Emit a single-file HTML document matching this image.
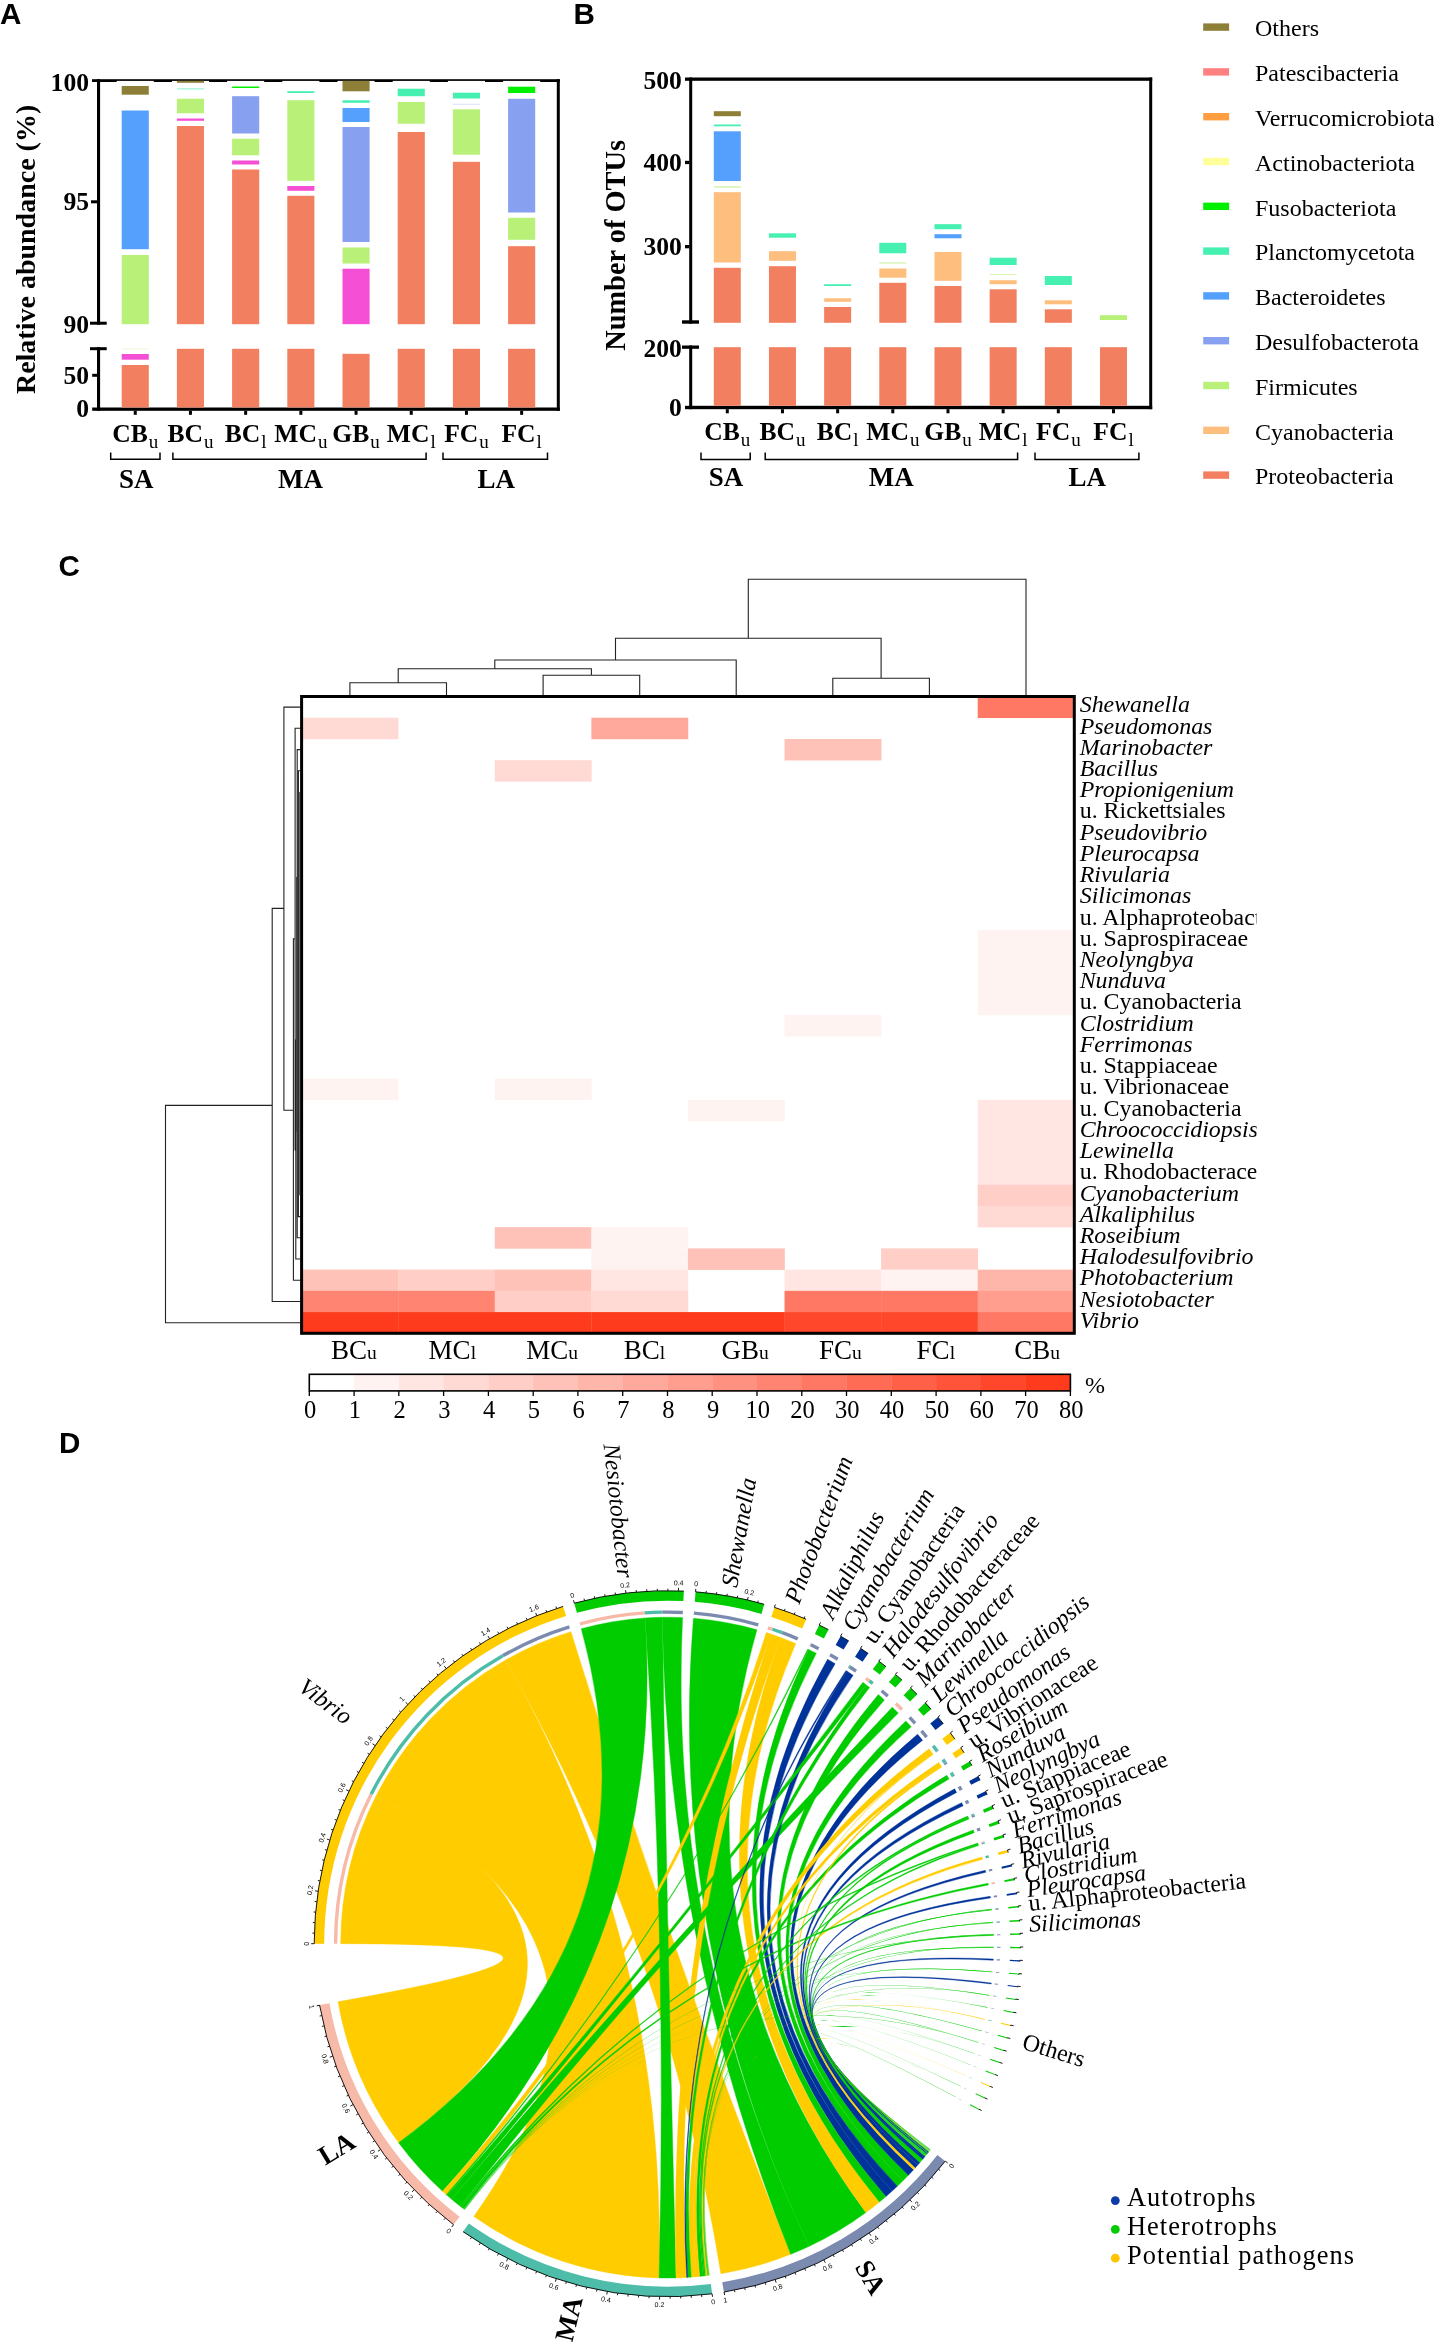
<!DOCTYPE html>
<html><head><meta charset="utf-8"><title>Figure</title>
<style>
html,body{margin:0;padding:0;background:#fff;}
body{width:1434px;height:2342px;overflow:hidden;font-family:"Liberation Serif",serif;}
svg{display:block;will-change:transform;}
text{fill:#000;}
</style></head><body>
<svg width="1434" height="2342" viewBox="0 0 1434 2342">
<text x="0.00" y="24.30" font-family="Liberation Sans" font-size="29.6" font-weight="bold" font-style="normal" text-anchor="start" >A</text>
<text x="573.60" y="24.00" font-family="Liberation Sans" font-size="29.6" font-weight="bold" font-style="normal" text-anchor="start" >B</text>
<text x="58.60" y="575.70" font-family="Liberation Sans" font-size="29.6" font-weight="bold" font-style="normal" text-anchor="start" >C</text>
<text x="59.00" y="1453.20" font-family="Liberation Sans" font-size="29.6" font-weight="bold" font-style="normal" text-anchor="start" >D</text>
<rect x="92.00" y="79.20" width="467.80" height="2.80" fill="#000"/>
<rect x="97.00" y="79.20" width="3.10" height="245.50" fill="#000"/>
<rect x="97.00" y="347.20" width="3.10" height="63.60" fill="#000"/>
<rect x="556.80" y="79.20" width="3.00" height="331.60" fill="#000"/>
<rect x="92.20" y="407.50" width="467.60" height="3.30" fill="#000"/>
<rect x="91.00" y="200.30" width="6.50" height="3.00" fill="#000"/>
<rect x="90.00" y="321.70" width="16.70" height="3.00" fill="#000"/>
<rect x="90.00" y="347.20" width="16.70" height="3.00" fill="#000"/>
<rect x="92.20" y="373.80" width="5.50" height="3.00" fill="#000"/>
<rect x="116.70" y="80.90" width="37.10" height="1.40" fill="#fff"/>
<rect x="171.90" y="80.90" width="37.10" height="1.40" fill="#fff"/>
<rect x="227.10" y="80.90" width="37.10" height="1.40" fill="#fff"/>
<rect x="282.30" y="80.90" width="37.10" height="1.40" fill="#fff"/>
<rect x="337.50" y="80.90" width="37.10" height="1.40" fill="#fff"/>
<rect x="392.70" y="80.90" width="37.10" height="1.40" fill="#fff"/>
<rect x="447.90" y="80.90" width="37.10" height="1.40" fill="#fff"/>
<rect x="503.10" y="80.90" width="37.10" height="1.40" fill="#fff"/>
<rect x="121.70" y="86.00" width="27.10" height="8.70" fill="#8E7F38"/>
<rect x="121.70" y="110.50" width="27.10" height="138.70" fill="#55A0FC"/>
<rect x="121.70" y="255.00" width="27.10" height="69.20" fill="#B9F077"/>
<rect x="121.70" y="348.30" width="27.10" height="1.20" fill="#F0FAE0"/>
<rect x="121.70" y="354.00" width="27.10" height="5.70" fill="#F550D5"/>
<rect x="121.70" y="365.00" width="27.10" height="42.50" fill="#F27F5F"/>
<rect x="133.75" y="410.80" width="3.00" height="4.00" fill="#000"/>
<text x="135.25" y="441.70" font-family="Liberation Serif" text-anchor="middle" font-size="25.6" font-weight="bold">CB<tspan font-size="19" font-weight="normal" dy="5.8" dx="1">u</tspan></text>
<rect x="176.90" y="80.80" width="27.10" height="2.00" fill="#8E7F38"/>
<rect x="176.90" y="88.00" width="27.10" height="1.70" fill="#B8F8E2"/>
<rect x="176.90" y="98.70" width="27.10" height="14.60" fill="#B9F077"/>
<rect x="176.90" y="118.50" width="27.10" height="2.30" fill="#F550D5"/>
<rect x="176.90" y="126.00" width="27.10" height="198.20" fill="#F27F5F"/>
<rect x="176.90" y="348.80" width="27.10" height="58.70" fill="#F27F5F"/>
<rect x="188.95" y="410.80" width="3.00" height="4.00" fill="#000"/>
<text x="190.45" y="441.70" font-family="Liberation Serif" text-anchor="middle" font-size="25.6" font-weight="bold">BC<tspan font-size="19" font-weight="normal" dy="5.8" dx="1">u</tspan></text>
<rect x="232.10" y="86.50" width="27.10" height="1.50" fill="#00F000"/>
<rect x="232.10" y="96.20" width="27.10" height="37.30" fill="#88A0F0"/>
<rect x="232.10" y="138.70" width="27.10" height="16.60" fill="#B9F077"/>
<rect x="232.10" y="160.50" width="27.10" height="4.00" fill="#F550D5"/>
<rect x="232.10" y="169.50" width="27.10" height="154.70" fill="#F27F5F"/>
<rect x="232.10" y="348.80" width="27.10" height="58.70" fill="#F27F5F"/>
<rect x="244.15" y="410.80" width="3.00" height="4.00" fill="#000"/>
<text x="245.65" y="441.70" font-family="Liberation Serif" text-anchor="middle" font-size="25.6" font-weight="bold">BC<tspan font-size="19" font-weight="normal" dy="5.8" dx="1">l</tspan></text>
<rect x="287.30" y="91.20" width="27.10" height="1.80" fill="#45F0B0"/>
<rect x="287.30" y="100.20" width="27.10" height="80.60" fill="#B9F077"/>
<rect x="287.30" y="186.00" width="27.10" height="4.80" fill="#F550D5"/>
<rect x="287.30" y="195.80" width="27.10" height="128.40" fill="#F27F5F"/>
<rect x="287.30" y="348.80" width="27.10" height="58.70" fill="#F27F5F"/>
<rect x="299.35" y="410.80" width="3.00" height="4.00" fill="#000"/>
<text x="300.85" y="441.70" font-family="Liberation Serif" text-anchor="middle" font-size="25.6" font-weight="bold">MC<tspan font-size="19" font-weight="normal" dy="5.8" dx="1">u</tspan></text>
<rect x="342.50" y="80.80" width="27.10" height="10.50" fill="#8E7F38"/>
<rect x="342.50" y="100.30" width="27.10" height="2.50" fill="#45F0B0"/>
<rect x="342.50" y="108.00" width="27.10" height="14.00" fill="#55A0FC"/>
<rect x="342.50" y="127.00" width="27.10" height="115.00" fill="#88A0F0"/>
<rect x="342.50" y="247.50" width="27.10" height="16.00" fill="#B9F077"/>
<rect x="342.50" y="268.70" width="27.10" height="55.50" fill="#F550D5"/>
<rect x="342.50" y="353.80" width="27.10" height="53.70" fill="#F27F5F"/>
<rect x="354.55" y="410.80" width="3.00" height="4.00" fill="#000"/>
<text x="356.05" y="441.70" font-family="Liberation Serif" text-anchor="middle" font-size="25.6" font-weight="bold">GB<tspan font-size="19" font-weight="normal" dy="5.8" dx="1">u</tspan></text>
<rect x="397.70" y="88.70" width="27.10" height="7.50" fill="#45F0B0"/>
<rect x="397.70" y="102.00" width="27.10" height="21.70" fill="#B9F077"/>
<rect x="397.70" y="132.00" width="27.10" height="192.20" fill="#F27F5F"/>
<rect x="397.70" y="348.80" width="27.10" height="58.70" fill="#F27F5F"/>
<rect x="409.75" y="410.80" width="3.00" height="4.00" fill="#000"/>
<text x="411.25" y="441.70" font-family="Liberation Serif" text-anchor="middle" font-size="25.6" font-weight="bold">MC<tspan font-size="19" font-weight="normal" dy="5.8" dx="1">l</tspan></text>
<rect x="452.90" y="92.70" width="27.10" height="5.80" fill="#45F0B0"/>
<rect x="452.90" y="103.80" width="27.10" height="1.00" fill="#DDE2FB"/>
<rect x="452.90" y="109.30" width="27.10" height="45.40" fill="#B9F077"/>
<rect x="452.90" y="161.80" width="27.10" height="162.40" fill="#F27F5F"/>
<rect x="452.90" y="348.80" width="27.10" height="58.70" fill="#F27F5F"/>
<rect x="464.95" y="410.80" width="3.00" height="4.00" fill="#000"/>
<text x="466.45" y="441.70" font-family="Liberation Serif" text-anchor="middle" font-size="25.6" font-weight="bold">FC<tspan font-size="19" font-weight="normal" dy="5.8" dx="1">u</tspan></text>
<rect x="508.10" y="86.70" width="27.10" height="6.30" fill="#00F000"/>
<rect x="508.10" y="98.80" width="27.10" height="113.70" fill="#88A0F0"/>
<rect x="508.10" y="217.80" width="27.10" height="22.00" fill="#B9F077"/>
<rect x="508.10" y="246.20" width="27.10" height="78.00" fill="#F27F5F"/>
<rect x="508.10" y="348.80" width="27.10" height="58.70" fill="#F27F5F"/>
<rect x="520.15" y="410.80" width="3.00" height="4.00" fill="#000"/>
<text x="521.65" y="441.70" font-family="Liberation Serif" text-anchor="middle" font-size="25.6" font-weight="bold">FC<tspan font-size="19" font-weight="normal" dy="5.8" dx="1">l</tspan></text>
<text x="89.00" y="90.60" font-family="Liberation Serif" font-size="25.6" font-weight="bold" font-style="normal" text-anchor="end" >100</text>
<text x="89.00" y="210.30" font-family="Liberation Serif" font-size="25.6" font-weight="bold" font-style="normal" text-anchor="end" >95</text>
<text x="89.00" y="332.70" font-family="Liberation Serif" font-size="25.6" font-weight="bold" font-style="normal" text-anchor="end" >90</text>
<text x="89.00" y="383.80" font-family="Liberation Serif" font-size="25.6" font-weight="bold" font-style="normal" text-anchor="end" >50</text>
<text x="89.00" y="417.40" font-family="Liberation Serif" font-size="25.6" font-weight="bold" font-style="normal" text-anchor="end" >0</text>
<text transform="translate(35.0,249.4) rotate(-90)" font-family="Liberation Serif" font-size="28" font-weight="bold" text-anchor="middle">Relative abundance (%)</text>
<path d="M110.7,452.5 V459.3 H160.0 V452.5" fill="none" stroke="#000" stroke-width="1.5"/>
<text x="136.35" y="487.80" font-family="Liberation Serif" font-size="27" font-weight="bold" font-style="normal" text-anchor="middle" >SA</text>
<path d="M172.9,452.5 V459.3 H426.1 V452.5" fill="none" stroke="#000" stroke-width="1.5"/>
<text x="300.50" y="487.80" font-family="Liberation Serif" font-size="27" font-weight="bold" font-style="normal" text-anchor="middle" >MA</text>
<path d="M443.0,452.5 V459.3 H547.5 V452.5" fill="none" stroke="#000" stroke-width="1.5"/>
<text x="496.25" y="487.80" font-family="Liberation Serif" font-size="27" font-weight="bold" font-style="normal" text-anchor="middle" >LA</text>
<rect x="685.00" y="77.50" width="467.20" height="3.30" fill="#000"/>
<rect x="689.20" y="77.50" width="3.00" height="246.20" fill="#000"/>
<rect x="689.20" y="345.50" width="3.00" height="63.70" fill="#000"/>
<rect x="1149.20" y="77.50" width="3.00" height="331.70" fill="#000"/>
<rect x="685.00" y="405.80" width="467.20" height="3.40" fill="#000"/>
<rect x="685.00" y="160.80" width="4.50" height="3.30" fill="#000"/>
<rect x="685.00" y="245.00" width="4.50" height="3.30" fill="#000"/>
<rect x="682.00" y="320.30" width="17.00" height="3.40" fill="#000"/>
<rect x="682.00" y="345.50" width="17.00" height="3.30" fill="#000"/>
<rect x="713.80" y="111.20" width="27.00" height="5.00" fill="#8E7F38"/>
<rect x="713.80" y="124.50" width="27.00" height="1.80" fill="#45F0B0"/>
<rect x="713.80" y="131.30" width="27.00" height="49.70" fill="#55A0FC"/>
<rect x="713.80" y="186.20" width="27.00" height="1.60" fill="#D8F6B4"/>
<rect x="713.80" y="192.20" width="27.00" height="70.30" fill="#FDBE7E"/>
<rect x="713.80" y="267.80" width="27.00" height="55.00" fill="#F27F5F"/>
<rect x="713.80" y="347.20" width="27.00" height="58.60" fill="#F27F5F"/>
<rect x="725.80" y="409.20" width="3.00" height="4.10" fill="#000"/>
<text x="727.30" y="440.00" font-family="Liberation Serif" text-anchor="middle" font-size="25.6" font-weight="bold">CB<tspan font-size="19" font-weight="normal" dy="5.8" dx="1">u</tspan></text>
<rect x="768.97" y="233.30" width="27.00" height="4.40" fill="#45F0B0"/>
<rect x="768.97" y="251.20" width="27.00" height="9.60" fill="#FDBE7E"/>
<rect x="768.97" y="266.20" width="27.00" height="56.60" fill="#F27F5F"/>
<rect x="768.97" y="347.20" width="27.00" height="58.60" fill="#F27F5F"/>
<rect x="780.97" y="409.20" width="3.00" height="4.10" fill="#000"/>
<text x="782.47" y="440.00" font-family="Liberation Serif" text-anchor="middle" font-size="25.6" font-weight="bold">BC<tspan font-size="19" font-weight="normal" dy="5.8" dx="1">u</tspan></text>
<rect x="824.14" y="284.20" width="27.00" height="1.80" fill="#45F0B0"/>
<rect x="824.14" y="298.30" width="27.00" height="3.50" fill="#FDBE7E"/>
<rect x="824.14" y="307.00" width="27.00" height="15.80" fill="#F27F5F"/>
<rect x="824.14" y="347.20" width="27.00" height="58.60" fill="#F27F5F"/>
<rect x="836.14" y="409.20" width="3.00" height="4.10" fill="#000"/>
<text x="837.64" y="440.00" font-family="Liberation Serif" text-anchor="middle" font-size="25.6" font-weight="bold">BC<tspan font-size="19" font-weight="normal" dy="5.8" dx="1">l</tspan></text>
<rect x="879.31" y="242.80" width="27.00" height="10.50" fill="#45F0B0"/>
<rect x="879.31" y="262.30" width="27.00" height="1.40" fill="#D8F6B4"/>
<rect x="879.31" y="268.50" width="27.00" height="9.20" fill="#FDBE7E"/>
<rect x="879.31" y="282.80" width="27.00" height="40.00" fill="#F27F5F"/>
<rect x="879.31" y="347.20" width="27.00" height="58.60" fill="#F27F5F"/>
<rect x="891.31" y="409.20" width="3.00" height="4.10" fill="#000"/>
<text x="892.81" y="440.00" font-family="Liberation Serif" text-anchor="middle" font-size="25.6" font-weight="bold">MC<tspan font-size="19" font-weight="normal" dy="5.8" dx="1">u</tspan></text>
<rect x="934.48" y="224.20" width="27.00" height="5.00" fill="#45F0B0"/>
<rect x="934.48" y="234.20" width="27.00" height="4.10" fill="#55A0FC"/>
<rect x="934.48" y="252.00" width="27.00" height="28.80" fill="#FDBE7E"/>
<rect x="934.48" y="286.00" width="27.00" height="36.80" fill="#F27F5F"/>
<rect x="934.48" y="347.20" width="27.00" height="58.60" fill="#F27F5F"/>
<rect x="946.48" y="409.20" width="3.00" height="4.10" fill="#000"/>
<text x="947.98" y="440.00" font-family="Liberation Serif" text-anchor="middle" font-size="25.6" font-weight="bold">GB<tspan font-size="19" font-weight="normal" dy="5.8" dx="1">u</tspan></text>
<rect x="989.65" y="257.70" width="27.00" height="7.30" fill="#45F0B0"/>
<rect x="989.65" y="274.00" width="27.00" height="1.00" fill="#D8F6B4"/>
<rect x="989.65" y="280.20" width="27.00" height="4.00" fill="#FDBE7E"/>
<rect x="989.65" y="289.30" width="27.00" height="33.50" fill="#F27F5F"/>
<rect x="989.65" y="347.20" width="27.00" height="58.60" fill="#F27F5F"/>
<rect x="1001.65" y="409.20" width="3.00" height="4.10" fill="#000"/>
<text x="1003.15" y="440.00" font-family="Liberation Serif" text-anchor="middle" font-size="25.6" font-weight="bold">MC<tspan font-size="19" font-weight="normal" dy="5.8" dx="1">l</tspan></text>
<rect x="1044.82" y="276.00" width="27.00" height="9.00" fill="#45F0B0"/>
<rect x="1044.82" y="300.30" width="27.00" height="4.00" fill="#FDBE7E"/>
<rect x="1044.82" y="309.30" width="27.00" height="13.50" fill="#F27F5F"/>
<rect x="1044.82" y="347.20" width="27.00" height="58.60" fill="#F27F5F"/>
<rect x="1056.82" y="409.20" width="3.00" height="4.10" fill="#000"/>
<text x="1058.32" y="440.00" font-family="Liberation Serif" text-anchor="middle" font-size="25.6" font-weight="bold">FC<tspan font-size="19" font-weight="normal" dy="5.8" dx="1">u</tspan></text>
<rect x="1099.99" y="315.20" width="27.00" height="4.80" fill="#B9F077"/>
<rect x="1099.99" y="347.20" width="27.00" height="58.60" fill="#F27F5F"/>
<rect x="1111.99" y="409.20" width="3.00" height="4.10" fill="#000"/>
<text x="1113.49" y="440.00" font-family="Liberation Serif" text-anchor="middle" font-size="25.6" font-weight="bold">FC<tspan font-size="19" font-weight="normal" dy="5.8" dx="1">l</tspan></text>
<text x="681.80" y="88.80" font-family="Liberation Serif" font-size="25.6" font-weight="bold" font-style="normal" text-anchor="end" >500</text>
<text x="681.80" y="171.10" font-family="Liberation Serif" font-size="25.6" font-weight="bold" font-style="normal" text-anchor="end" >400</text>
<text x="681.80" y="255.30" font-family="Liberation Serif" font-size="25.6" font-weight="bold" font-style="normal" text-anchor="end" >300</text>
<text x="681.80" y="356.50" font-family="Liberation Serif" font-size="25.6" font-weight="bold" font-style="normal" text-anchor="end" >200</text>
<text x="681.80" y="416.30" font-family="Liberation Serif" font-size="25.6" font-weight="bold" font-style="normal" text-anchor="end" >0</text>
<text transform="translate(625.4,245.4) rotate(-90)" font-family="Liberation Serif" font-size="28.4" font-weight="bold" text-anchor="middle">Number of OTUs</text>
<path d="M701.0,452.5 V459.5 H750.2 V452.5" fill="none" stroke="#000" stroke-width="1.5"/>
<path d="M765.2,452.5 V459.5 H1017.6 V452.5" fill="none" stroke="#000" stroke-width="1.5"/>
<path d="M1035.0,452.5 V459.5 H1138.9 V452.5" fill="none" stroke="#000" stroke-width="1.5"/>
<text x="726.00" y="486.30" font-family="Liberation Serif" font-size="27" font-weight="bold" font-style="normal" text-anchor="middle" >SA</text>
<text x="891.20" y="486.30" font-family="Liberation Serif" font-size="27" font-weight="bold" font-style="normal" text-anchor="middle" >MA</text>
<text x="1087.20" y="486.30" font-family="Liberation Serif" font-size="27" font-weight="bold" font-style="normal" text-anchor="middle" >LA</text>
<rect x="1203.20" y="23.40" width="25.90" height="7.40" fill="#8E7F38"/>
<text x="1255.00" y="36.30" font-family="Liberation Serif" font-size="24.0" font-weight="normal" font-style="normal" text-anchor="start" >Others</text>
<rect x="1203.20" y="68.20" width="25.90" height="7.40" fill="#FF8080"/>
<text x="1255.00" y="81.10" font-family="Liberation Serif" font-size="24.0" font-weight="normal" font-style="normal" text-anchor="start" >Patescibacteria</text>
<rect x="1203.20" y="113.00" width="25.90" height="7.40" fill="#FF9E40"/>
<text x="1255.00" y="125.90" font-family="Liberation Serif" font-size="24.0" font-weight="normal" font-style="normal" text-anchor="start" >Verrucomicrobiota</text>
<rect x="1203.20" y="157.80" width="25.90" height="7.40" fill="#FFFF99"/>
<text x="1255.00" y="170.70" font-family="Liberation Serif" font-size="24.0" font-weight="normal" font-style="normal" text-anchor="start" >Actinobacteriota</text>
<rect x="1203.20" y="202.60" width="25.90" height="7.40" fill="#00F000"/>
<text x="1255.00" y="215.50" font-family="Liberation Serif" font-size="24.0" font-weight="normal" font-style="normal" text-anchor="start" >Fusobacteriota</text>
<rect x="1203.20" y="247.40" width="25.90" height="7.40" fill="#45F0B0"/>
<text x="1255.00" y="260.30" font-family="Liberation Serif" font-size="24.0" font-weight="normal" font-style="normal" text-anchor="start" >Planctomycetota</text>
<rect x="1203.20" y="292.20" width="25.90" height="7.40" fill="#55A0FC"/>
<text x="1255.00" y="305.10" font-family="Liberation Serif" font-size="24.0" font-weight="normal" font-style="normal" text-anchor="start" >Bacteroidetes</text>
<rect x="1203.20" y="337.00" width="25.90" height="7.40" fill="#88A0F0"/>
<text x="1255.00" y="349.90" font-family="Liberation Serif" font-size="24.0" font-weight="normal" font-style="normal" text-anchor="start" >Desulfobacterota</text>
<rect x="1203.20" y="381.80" width="25.90" height="7.40" fill="#B9F077"/>
<text x="1255.00" y="394.70" font-family="Liberation Serif" font-size="24.0" font-weight="normal" font-style="normal" text-anchor="start" >Firmicutes</text>
<rect x="1203.20" y="426.60" width="25.90" height="7.40" fill="#FDBE7E"/>
<text x="1255.00" y="439.50" font-family="Liberation Serif" font-size="24.0" font-weight="normal" font-style="normal" text-anchor="start" >Cyanobacteria</text>
<rect x="1203.20" y="471.40" width="25.90" height="7.40" fill="#F27F5F"/>
<text x="1255.00" y="484.30" font-family="Liberation Serif" font-size="24.0" font-weight="normal" font-style="normal" text-anchor="start" >Proteobacteria</text>
<rect x="977.71" y="696.50" width="96.89" height="21.53" fill="#FF7864"/>
<rect x="301.60" y="717.73" width="96.89" height="21.53" fill="#FFDAD5"/>
<rect x="591.36" y="717.73" width="96.89" height="21.53" fill="#FFA99C"/>
<rect x="784.54" y="738.95" width="96.89" height="21.53" fill="#FFC2B8"/>
<rect x="494.77" y="760.18" width="96.89" height="21.53" fill="#FFDAD5"/>
<rect x="977.71" y="929.99" width="96.89" height="21.53" fill="#FFF3F1"/>
<rect x="977.71" y="951.22" width="96.89" height="21.53" fill="#FFF3F1"/>
<rect x="977.71" y="972.45" width="96.89" height="21.53" fill="#FFF3F1"/>
<rect x="977.71" y="993.67" width="96.89" height="21.53" fill="#FFF3F1"/>
<rect x="784.54" y="1014.90" width="96.89" height="21.53" fill="#FFF3F1"/>
<rect x="301.60" y="1078.58" width="96.89" height="21.53" fill="#FFF3F1"/>
<rect x="494.77" y="1078.58" width="96.89" height="21.53" fill="#FFF3F1"/>
<rect x="687.95" y="1099.81" width="96.89" height="21.53" fill="#FFF3F1"/>
<rect x="977.71" y="1099.81" width="96.89" height="21.53" fill="#FFE6E3"/>
<rect x="977.71" y="1121.03" width="96.89" height="21.53" fill="#FFE6E3"/>
<rect x="977.71" y="1142.26" width="96.89" height="21.53" fill="#FFE6E3"/>
<rect x="977.71" y="1163.49" width="96.89" height="21.53" fill="#FFE6E3"/>
<rect x="977.71" y="1184.71" width="96.89" height="21.53" fill="#FFCEC6"/>
<rect x="977.71" y="1205.94" width="96.89" height="21.53" fill="#FFDAD5"/>
<rect x="494.77" y="1227.17" width="96.89" height="21.53" fill="#FFC2B8"/>
<rect x="591.36" y="1227.17" width="96.89" height="21.53" fill="#FFF3F1"/>
<rect x="591.36" y="1248.39" width="96.89" height="21.53" fill="#FFF3F1"/>
<rect x="687.95" y="1248.39" width="96.89" height="21.53" fill="#FFC2B8"/>
<rect x="881.12" y="1248.39" width="96.89" height="21.53" fill="#FFCEC6"/>
<rect x="301.60" y="1269.62" width="96.89" height="21.53" fill="#FFC2B8"/>
<rect x="398.19" y="1269.62" width="96.89" height="21.53" fill="#FFCEC6"/>
<rect x="494.77" y="1269.62" width="96.89" height="21.53" fill="#FFC2B8"/>
<rect x="591.36" y="1269.62" width="96.89" height="21.53" fill="#FFE6E3"/>
<rect x="784.54" y="1269.62" width="96.89" height="21.53" fill="#FFE6E3"/>
<rect x="881.12" y="1269.62" width="96.89" height="21.53" fill="#FFF3F1"/>
<rect x="977.71" y="1269.62" width="96.89" height="21.53" fill="#FFB6AA"/>
<rect x="301.60" y="1290.85" width="96.89" height="21.53" fill="#FF8472"/>
<rect x="398.19" y="1290.85" width="96.89" height="21.53" fill="#FF8472"/>
<rect x="494.77" y="1290.85" width="96.89" height="21.53" fill="#FFCEC6"/>
<rect x="591.36" y="1290.85" width="96.89" height="21.53" fill="#FFDAD5"/>
<rect x="784.54" y="1290.85" width="96.89" height="21.53" fill="#FF7864"/>
<rect x="881.12" y="1290.85" width="96.89" height="21.53" fill="#FF7864"/>
<rect x="977.71" y="1290.85" width="96.89" height="21.53" fill="#FF9D8E"/>
<rect x="301.60" y="1312.07" width="96.89" height="21.53" fill="#FF3B1D"/>
<rect x="398.19" y="1312.07" width="96.89" height="21.53" fill="#FF3B1D"/>
<rect x="494.77" y="1312.07" width="96.89" height="21.53" fill="#FF3B1D"/>
<rect x="591.36" y="1312.07" width="96.89" height="21.53" fill="#FF3B1D"/>
<rect x="687.95" y="1312.07" width="96.89" height="21.53" fill="#FF3B1D"/>
<rect x="784.54" y="1312.07" width="96.89" height="21.53" fill="#FF472B"/>
<rect x="881.12" y="1312.07" width="96.89" height="21.53" fill="#FF472B"/>
<rect x="977.71" y="1312.07" width="96.89" height="21.53" fill="#FF7864"/>
<path d="M349.9,695.5 V682.7 H446.5 V695.5 M543.1,695.5 V675.3 H639.7 V695.5 M398.2,682.7 V668.7 H591.4 V675.3 M494.8,668.7 V660.0 H736.2 V695.5 M832.8,695.5 V678.3 H929.4 V695.5 M615.5,660.0 V638.3 H881.1 V678.3 M748.3,638.3 V579.3 H1026.0 V695.5" fill="none" stroke="#222" stroke-width="1.1"/>
<path d="M272.2,1105.4 H165.5 V1322.7 H300.6 M283.9,908.4 H272.2 V1301.5 H300.6 M300.6,707.1 H283.9 V1110.3 H293.4 M295.1,938.7 H293.4 V1280.2 H300.6 M300.6,728.3 H295.1 V1150.0 H295.8 M297.2,1040.0 H295.8 V1259.0 H300.6 M300.6,749.6 H297.2 V1237.8 H300.6 M300.6,770.8 H298.4 V1216.6 H300.6" fill="none" stroke="#222" stroke-width="1.1"/>
<path d="M299.3,792.0 V1195.3 M296.5,876.9 V1131.6" fill="none" stroke="#444" stroke-width="1"/>
<rect x="301.6" y="696.5" width="772.6999999999999" height="636.8" fill="none" stroke="#000" stroke-width="3.0"/>
<clipPath id="rowclip"><rect x="1076" y="690" width="180.6" height="660"/></clipPath>
<g clip-path="url(#rowclip)">
<text x="1079.70" y="712.30" font-family="Liberation Serif" font-size="23.9" font-weight="normal" font-style="italic" text-anchor="start" >Shewanella</text>
<text x="1079.70" y="733.53" font-family="Liberation Serif" font-size="23.9" font-weight="normal" font-style="italic" text-anchor="start" >Pseudomonas</text>
<text x="1079.70" y="754.75" font-family="Liberation Serif" font-size="23.9" font-weight="normal" font-style="italic" text-anchor="start" >Marinobacter</text>
<text x="1079.70" y="775.98" font-family="Liberation Serif" font-size="23.9" font-weight="normal" font-style="italic" text-anchor="start" >Bacillus</text>
<text x="1079.70" y="797.21" font-family="Liberation Serif" font-size="23.9" font-weight="normal" font-style="italic" text-anchor="start" >Propionigenium</text>
<text x="1079.70" y="818.43" font-family="Liberation Serif" font-size="23.9" font-weight="normal" font-style="normal" text-anchor="start" >u. Rickettsiales</text>
<text x="1079.70" y="839.66" font-family="Liberation Serif" font-size="23.9" font-weight="normal" font-style="italic" text-anchor="start" >Pseudovibrio</text>
<text x="1079.70" y="860.89" font-family="Liberation Serif" font-size="23.9" font-weight="normal" font-style="italic" text-anchor="start" >Pleurocapsa</text>
<text x="1079.70" y="882.11" font-family="Liberation Serif" font-size="23.9" font-weight="normal" font-style="italic" text-anchor="start" >Rivularia</text>
<text x="1079.70" y="903.34" font-family="Liberation Serif" font-size="23.9" font-weight="normal" font-style="italic" text-anchor="start" >Silicimonas</text>
<text x="1079.70" y="924.57" font-family="Liberation Serif" font-size="23.9" font-weight="normal" font-style="normal" text-anchor="start" >u. Alphaproteobacteria</text>
<text x="1079.70" y="945.79" font-family="Liberation Serif" font-size="23.9" font-weight="normal" font-style="normal" text-anchor="start" >u. Saprospiraceae</text>
<text x="1079.70" y="967.02" font-family="Liberation Serif" font-size="23.9" font-weight="normal" font-style="italic" text-anchor="start" >Neolyngbya</text>
<text x="1079.70" y="988.25" font-family="Liberation Serif" font-size="23.9" font-weight="normal" font-style="italic" text-anchor="start" >Nunduva</text>
<text x="1079.70" y="1009.47" font-family="Liberation Serif" font-size="23.9" font-weight="normal" font-style="normal" text-anchor="start" >u. Cyanobacteria</text>
<text x="1079.70" y="1030.70" font-family="Liberation Serif" font-size="23.9" font-weight="normal" font-style="italic" text-anchor="start" >Clostridium</text>
<text x="1079.70" y="1051.93" font-family="Liberation Serif" font-size="23.9" font-weight="normal" font-style="italic" text-anchor="start" >Ferrimonas</text>
<text x="1079.70" y="1073.15" font-family="Liberation Serif" font-size="23.9" font-weight="normal" font-style="normal" text-anchor="start" >u. Stappiaceae</text>
<text x="1079.70" y="1094.38" font-family="Liberation Serif" font-size="23.9" font-weight="normal" font-style="normal" text-anchor="start" >u. Vibrionaceae</text>
<text x="1079.70" y="1115.61" font-family="Liberation Serif" font-size="23.9" font-weight="normal" font-style="normal" text-anchor="start" >u. Cyanobacteria</text>
<text x="1079.70" y="1136.83" font-family="Liberation Serif" font-size="23.9" font-weight="normal" font-style="italic" text-anchor="start" >Chroococcidiopsis</text>
<text x="1079.70" y="1158.06" font-family="Liberation Serif" font-size="23.9" font-weight="normal" font-style="italic" text-anchor="start" >Lewinella</text>
<text x="1079.70" y="1179.29" font-family="Liberation Serif" font-size="23.9" font-weight="normal" font-style="normal" text-anchor="start" >u. Rhodobacteraceae</text>
<text x="1079.70" y="1200.51" font-family="Liberation Serif" font-size="23.9" font-weight="normal" font-style="italic" text-anchor="start" >Cyanobacterium</text>
<text x="1079.70" y="1221.74" font-family="Liberation Serif" font-size="23.9" font-weight="normal" font-style="italic" text-anchor="start" >Alkaliphilus</text>
<text x="1079.70" y="1242.97" font-family="Liberation Serif" font-size="23.9" font-weight="normal" font-style="italic" text-anchor="start" >Roseibium</text>
<text x="1079.70" y="1264.19" font-family="Liberation Serif" font-size="23.9" font-weight="normal" font-style="italic" text-anchor="start" >Halodesulfovibrio</text>
<text x="1079.70" y="1285.42" font-family="Liberation Serif" font-size="23.9" font-weight="normal" font-style="italic" text-anchor="start" >Photobacterium</text>
<text x="1079.70" y="1306.65" font-family="Liberation Serif" font-size="23.9" font-weight="normal" font-style="italic" text-anchor="start" >Nesiotobacter</text>
<text x="1079.70" y="1327.87" font-family="Liberation Serif" font-size="23.9" font-weight="normal" font-style="italic" text-anchor="start" >Vibrio</text>
</g>
<text x="331.0" y="1359.2" font-family="Liberation Serif" font-size="27">BC<tspan font-size="19.5">u</tspan></text>
<text x="428.6" y="1359.2" font-family="Liberation Serif" font-size="27">MC<tspan font-size="19.5">l</tspan></text>
<text x="526.2" y="1359.2" font-family="Liberation Serif" font-size="27">MC<tspan font-size="19.5">u</tspan></text>
<text x="623.8" y="1359.2" font-family="Liberation Serif" font-size="27">BC<tspan font-size="19.5">l</tspan></text>
<text x="721.4" y="1359.2" font-family="Liberation Serif" font-size="27">GB<tspan font-size="19.5">u</tspan></text>
<text x="819.0" y="1359.2" font-family="Liberation Serif" font-size="27">FC<tspan font-size="19.5">u</tspan></text>
<text x="916.6" y="1359.2" font-family="Liberation Serif" font-size="27">FC<tspan font-size="19.5">l</tspan></text>
<text x="1014.2" y="1359.2" font-family="Liberation Serif" font-size="27">CB<tspan font-size="19.5">u</tspan></text>
<rect x="309.30" y="1374.20" width="45.07" height="16.60" fill="#FFFFFF"/>
<rect x="354.07" y="1374.20" width="45.07" height="16.60" fill="#FFF3F1"/>
<rect x="398.84" y="1374.20" width="45.07" height="16.60" fill="#FFE6E3"/>
<rect x="443.61" y="1374.20" width="45.07" height="16.60" fill="#FFDAD5"/>
<rect x="488.38" y="1374.20" width="45.07" height="16.60" fill="#FFCEC6"/>
<rect x="533.15" y="1374.20" width="45.07" height="16.60" fill="#FFC2B8"/>
<rect x="577.92" y="1374.20" width="45.07" height="16.60" fill="#FFB6AA"/>
<rect x="622.69" y="1374.20" width="45.07" height="16.60" fill="#FFA99C"/>
<rect x="667.46" y="1374.20" width="45.07" height="16.60" fill="#FF9D8E"/>
<rect x="712.23" y="1374.20" width="45.07" height="16.60" fill="#FF9180"/>
<rect x="757.00" y="1374.20" width="45.07" height="16.60" fill="#FF8472"/>
<rect x="801.77" y="1374.20" width="45.07" height="16.60" fill="#FF7864"/>
<rect x="846.54" y="1374.20" width="45.07" height="16.60" fill="#FF6C56"/>
<rect x="891.31" y="1374.20" width="45.07" height="16.60" fill="#FF6047"/>
<rect x="936.08" y="1374.20" width="45.07" height="16.60" fill="#FF5439"/>
<rect x="980.85" y="1374.20" width="45.07" height="16.60" fill="#FF472B"/>
<rect x="1025.62" y="1374.20" width="45.07" height="16.60" fill="#FF3B1D"/>
<rect x="309.3" y="1374.3" width="761.1" height="16.6" fill="none" stroke="#000" stroke-width="1.6"/>
<path d="M309.3,1391 V1396" stroke="#000" stroke-width="1.3"/>
<text x="310.10" y="1418.00" font-family="Liberation Serif" font-size="24.5" font-weight="normal" font-style="normal" text-anchor="middle" >0</text>
<path d="M354.1,1391 V1396" stroke="#000" stroke-width="1.3"/>
<text x="354.87" y="1418.00" font-family="Liberation Serif" font-size="24.5" font-weight="normal" font-style="normal" text-anchor="middle" >1</text>
<path d="M398.8,1391 V1396" stroke="#000" stroke-width="1.3"/>
<text x="399.64" y="1418.00" font-family="Liberation Serif" font-size="24.5" font-weight="normal" font-style="normal" text-anchor="middle" >2</text>
<path d="M443.6,1391 V1396" stroke="#000" stroke-width="1.3"/>
<text x="444.41" y="1418.00" font-family="Liberation Serif" font-size="24.5" font-weight="normal" font-style="normal" text-anchor="middle" >3</text>
<path d="M488.4,1391 V1396" stroke="#000" stroke-width="1.3"/>
<text x="489.18" y="1418.00" font-family="Liberation Serif" font-size="24.5" font-weight="normal" font-style="normal" text-anchor="middle" >4</text>
<path d="M533.2,1391 V1396" stroke="#000" stroke-width="1.3"/>
<text x="533.95" y="1418.00" font-family="Liberation Serif" font-size="24.5" font-weight="normal" font-style="normal" text-anchor="middle" >5</text>
<path d="M577.9,1391 V1396" stroke="#000" stroke-width="1.3"/>
<text x="578.72" y="1418.00" font-family="Liberation Serif" font-size="24.5" font-weight="normal" font-style="normal" text-anchor="middle" >6</text>
<path d="M622.7,1391 V1396" stroke="#000" stroke-width="1.3"/>
<text x="623.49" y="1418.00" font-family="Liberation Serif" font-size="24.5" font-weight="normal" font-style="normal" text-anchor="middle" >7</text>
<path d="M667.5,1391 V1396" stroke="#000" stroke-width="1.3"/>
<text x="668.26" y="1418.00" font-family="Liberation Serif" font-size="24.5" font-weight="normal" font-style="normal" text-anchor="middle" >8</text>
<path d="M712.2,1391 V1396" stroke="#000" stroke-width="1.3"/>
<text x="713.03" y="1418.00" font-family="Liberation Serif" font-size="24.5" font-weight="normal" font-style="normal" text-anchor="middle" >9</text>
<path d="M757.0,1391 V1396" stroke="#000" stroke-width="1.3"/>
<text x="757.80" y="1418.00" font-family="Liberation Serif" font-size="24.5" font-weight="normal" font-style="normal" text-anchor="middle" >10</text>
<path d="M801.8,1391 V1396" stroke="#000" stroke-width="1.3"/>
<text x="802.57" y="1418.00" font-family="Liberation Serif" font-size="24.5" font-weight="normal" font-style="normal" text-anchor="middle" >20</text>
<path d="M846.5,1391 V1396" stroke="#000" stroke-width="1.3"/>
<text x="847.34" y="1418.00" font-family="Liberation Serif" font-size="24.5" font-weight="normal" font-style="normal" text-anchor="middle" >30</text>
<path d="M891.3,1391 V1396" stroke="#000" stroke-width="1.3"/>
<text x="892.11" y="1418.00" font-family="Liberation Serif" font-size="24.5" font-weight="normal" font-style="normal" text-anchor="middle" >40</text>
<path d="M936.1,1391 V1396" stroke="#000" stroke-width="1.3"/>
<text x="936.88" y="1418.00" font-family="Liberation Serif" font-size="24.5" font-weight="normal" font-style="normal" text-anchor="middle" >50</text>
<path d="M980.9,1391 V1396" stroke="#000" stroke-width="1.3"/>
<text x="981.65" y="1418.00" font-family="Liberation Serif" font-size="24.5" font-weight="normal" font-style="normal" text-anchor="middle" >60</text>
<path d="M1025.6,1391 V1396" stroke="#000" stroke-width="1.3"/>
<text x="1026.42" y="1418.00" font-family="Liberation Serif" font-size="24.5" font-weight="normal" font-style="normal" text-anchor="middle" >70</text>
<path d="M1070.4,1391 V1396" stroke="#000" stroke-width="1.3"/>
<text x="1071.19" y="1418.00" font-family="Liberation Serif" font-size="24.5" font-weight="normal" font-style="normal" text-anchor="middle" >80</text>
<text x="1085.00" y="1393.00" font-family="Liberation Serif" font-size="24" font-weight="normal" font-style="normal" text-anchor="start" >%</text>
<path d="M375.70,1796.62 A326.5,326.5 0 0 1 505.62,1659.98 Q667.2,1943.7 659.09,2277.90 A334.3,334.3 0 0 1 473.83,2216.40 Q667.2,1943.7 375.70,1796.62 Z" fill="#FFCC00" stroke="#FFCC00" stroke-width="0.4" stroke-linejoin="round"/>
<path d="M340.70,1943.70 A326.5,326.5 0 0 1 375.70,1796.62 Q667.2,1943.7 398.64,2142.77 A334.3,334.3 0 0 1 337.98,2001.75 Q667.2,1943.7 340.70,1943.70 Z" fill="#FFCC00" stroke="#FFCC00" stroke-width="0.4" stroke-linejoin="round"/>
<path d="M505.62,1659.98 A326.5,326.5 0 0 1 570.92,1631.72 Q667.2,1943.7 790.68,2254.36 A334.3,334.3 0 0 1 720.88,2273.66 Q667.2,1943.7 505.62,1659.98 Z" fill="#FFCC00" stroke="#FFCC00" stroke-width="0.4" stroke-linejoin="round"/>
<path d="M581.27,1628.71 A326.5,326.5 0 0 1 645.17,1617.94 Q667.2,1943.7 442.60,2191.32 A334.3,334.3 0 0 1 398.64,2142.77 Q667.2,1943.7 581.27,1628.71 Z" fill="#00CC00" stroke="#00CC00" stroke-width="0.4" stroke-linejoin="round"/>
<path d="M693.44,1618.26 A326.5,326.5 0 0 1 756.92,1629.77 Q667.2,1943.7 865.89,2212.55 A334.3,334.3 0 0 1 809.22,2246.33 Q667.2,1943.7 693.44,1618.26 Z" fill="#00CC00" stroke="#00CC00" stroke-width="0.4" stroke-linejoin="round"/>
<path d="M662.41,1617.24 A326.5,326.5 0 0 1 682.58,1617.56 Q667.2,1943.7 809.22,2246.33 A334.3,334.3 0 0 1 790.68,2254.36 Q667.2,1943.7 662.41,1617.24 Z" fill="#00CC00" stroke="#00CC00" stroke-width="0.4" stroke-linejoin="round"/>
<path d="M645.17,1617.94 A326.5,326.5 0 0 1 662.41,1617.24 Q667.2,1943.7 676.01,2277.88 A334.3,334.3 0 0 1 659.09,2277.90 Q667.2,1943.7 645.17,1617.94 Z" fill="#00CC00" stroke="#00CC00" stroke-width="0.4" stroke-linejoin="round"/>
<path d="M780.50,1637.49 A326.5,326.5 0 0 1 795.72,1643.56 Q667.2,1943.7 879.46,2201.97 A334.3,334.3 0 0 1 865.89,2212.55 Q667.2,1943.7 780.50,1637.49 Z" fill="#FFCC00" stroke="#FFCC00" stroke-width="0.4" stroke-linejoin="round"/>
<path d="M770.87,1634.10 A326.5,326.5 0 0 1 780.50,1637.49 Q667.2,1943.7 686.70,2277.43 A334.3,334.3 0 0 1 676.01,2277.88 Q667.2,1943.7 770.87,1634.10 Z" fill="#FFCC00" stroke="#FFCC00" stroke-width="0.4" stroke-linejoin="round"/>
<path d="M827.55,1659.29 A326.5,326.5 0 0 1 835.14,1663.70 Q667.2,1943.7 892.14,2191.00 A334.3,334.3 0 0 1 885.79,2196.63 Q667.2,1943.7 827.55,1659.29 Z" fill="#003399" stroke="#003399" stroke-width="0.4" stroke-linejoin="round"/>
<path d="M808.64,1649.43 A326.5,326.5 0 0 1 816.32,1653.24 Q667.2,1943.7 885.79,2196.63 A334.3,334.3 0 0 1 879.46,2201.97 Q667.2,1943.7 808.64,1649.43 Z" fill="#00CC00" stroke="#00CC00" stroke-width="0.4" stroke-linejoin="round"/>
<path d="M892.25,1707.15 A326.5,326.5 0 0 1 898.34,1713.10 Q667.2,1943.7 460.33,2206.31 A334.3,334.3 0 0 1 451.54,2199.13 Q667.2,1943.7 892.25,1707.15 Z" fill="#00CC00" stroke="#00CC00" stroke-width="0.4" stroke-linejoin="round"/>
<path d="M878.28,1694.60 A326.5,326.5 0 0 1 884.41,1699.93 Q667.2,1943.7 902.96,2180.71 A334.3,334.3 0 0 1 897.33,2186.18 Q667.2,1943.7 878.28,1694.60 Z" fill="#00CC00" stroke="#00CC00" stroke-width="0.4" stroke-linejoin="round"/>
<path d="M905.89,1720.92 A326.5,326.5 0 0 1 911.22,1726.78 Q667.2,1943.7 908.33,2175.25 A334.3,334.3 0 0 1 902.96,2180.71 Q667.2,1943.7 905.89,1720.92 Z" fill="#00CC00" stroke="#00CC00" stroke-width="0.4" stroke-linejoin="round"/>
<path d="M917.59,1734.16 A326.5,326.5 0 0 1 922.60,1740.29 Q667.2,1943.7 913.57,2169.66 A334.3,334.3 0 0 1 908.33,2175.25 Q667.2,1943.7 917.59,1734.16 Z" fill="#003399" stroke="#003399" stroke-width="0.4" stroke-linejoin="round"/>
<path d="M847.08,1671.22 A326.5,326.5 0 0 1 853.15,1675.32 Q667.2,1943.7 897.33,2186.18 A334.3,334.3 0 0 1 892.14,2191.00 Q667.2,1943.7 847.08,1671.22 Z" fill="#003399" stroke="#003399" stroke-width="0.4" stroke-linejoin="round"/>
<path d="M929.07,1748.70 A326.5,326.5 0 0 1 932.90,1753.95 Q667.2,1943.7 696.45,2276.72 A334.3,334.3 0 0 1 691.17,2277.14 Q667.2,1943.7 929.07,1748.70 Z" fill="#FFCC00" stroke="#FFCC00" stroke-width="0.4" stroke-linejoin="round"/>
<path d="M766.36,1632.62 A326.5,326.5 0 0 1 770.87,1634.10 Q667.2,1943.7 446.32,2194.64 A334.3,334.3 0 0 1 442.60,2191.32 Q667.2,1943.7 766.36,1632.62 Z" fill="#FFCC00" stroke="#FFCC00" stroke-width="0.4" stroke-linejoin="round"/>
<path d="M946.82,1775.14 A326.5,326.5 0 0 1 949.05,1778.89 Q667.2,1943.7 703.17,2276.06 A334.3,334.3 0 0 1 699.64,2276.42 Q667.2,1943.7 946.82,1775.14 Z" fill="#00CC00" stroke="#00CC00" stroke-width="0.4" stroke-linejoin="round"/>
<path d="M862.92,1682.37 A326.5,326.5 0 0 1 866.28,1684.91 Q667.2,1943.7 451.54,2199.13 A334.3,334.3 0 0 1 447.28,2195.48 Q667.2,1943.7 862.92,1682.37 Z" fill="#00CC00" stroke="#00CC00" stroke-width="0.4" stroke-linejoin="round"/>
<path d="M866.28,1684.91 A326.5,326.5 0 0 1 869.60,1687.50 Q667.2,1943.7 691.17,2277.14 A334.3,334.3 0 0 1 687.75,2277.37 Q667.2,1943.7 866.28,1684.91 Z" fill="#00CC00" stroke="#00CC00" stroke-width="0.4" stroke-linejoin="round"/>
<path d="M954.65,1788.85 A326.5,326.5 0 0 1 956.58,1792.49 Q667.2,1943.7 917.79,2164.98 A334.3,334.3 0 0 1 915.14,2167.94 Q667.2,1943.7 954.65,1788.85 Z" fill="#003399" stroke="#003399" stroke-width="0.4" stroke-linejoin="round"/>
<path d="M938.73,1762.39 A326.5,326.5 0 0 1 940.89,1765.67 Q667.2,1943.7 699.64,2276.42 A334.3,334.3 0 0 1 696.45,2276.72 Q667.2,1943.7 938.73,1762.39 Z" fill="#FFCC00" stroke="#FFCC00" stroke-width="0.4" stroke-linejoin="round"/>
<path d="M961.66,1802.64 A326.5,326.5 0 0 1 963.15,1805.80 Q667.2,1943.7 920.01,2162.44 A334.3,334.3 0 0 1 917.79,2164.98 Q667.2,1943.7 961.66,1802.64 Z" fill="#003399" stroke="#003399" stroke-width="0.4" stroke-linejoin="round"/>
<path d="M973.25,1829.97 A326.5,326.5 0 0 1 974.25,1832.70 Q667.2,1943.7 922.82,2159.14 A334.3,334.3 0 0 1 921.00,2161.28 Q667.2,1943.7 973.25,1829.97 Z" fill="#00CC00" stroke="#00CC00" stroke-width="0.4" stroke-linejoin="round"/>
<path d="M981.97,1856.98 A326.5,326.5 0 0 1 982.61,1859.32 Q667.2,1943.7 707.42,2275.57 A334.3,334.3 0 0 1 705.46,2275.80 Q667.2,1943.7 981.97,1856.98 Z" fill="#FFCC00" stroke="#FFCC00" stroke-width="0.4" stroke-linejoin="round"/>
<path d="M985.36,1870.37 A326.5,326.5 0 0 1 985.81,1872.36 Q667.2,1943.7 924.08,2157.64 A334.3,334.3 0 0 1 922.82,2159.14 Q667.2,1943.7 985.36,1870.37 Z" fill="#003399" stroke="#003399" stroke-width="0.4" stroke-linejoin="round"/>
<path d="M988.05,1883.24 A326.5,326.5 0 0 1 988.39,1885.05 Q667.2,1943.7 463.59,2208.84 A334.3,334.3 0 0 1 461.66,2207.34 Q667.2,1943.7 988.05,1883.24 Z" fill="#00CC00" stroke="#00CC00" stroke-width="0.4" stroke-linejoin="round"/>
<path d="M940.89,1765.67 A326.5,326.5 0 0 1 941.81,1767.09 Q667.2,1943.7 915.14,2167.94 A334.3,334.3 0 0 1 914.04,2169.15 Q667.2,1943.7 940.89,1765.67 Z" fill="#FFCC00" stroke="#FFCC00" stroke-width="0.4" stroke-linejoin="round"/>
<path d="M990.24,1896.32 A326.5,326.5 0 0 1 990.48,1897.95 Q667.2,1943.7 925.10,2156.41 A334.3,334.3 0 0 1 924.08,2157.64 Q667.2,1943.7 990.24,1896.32 Z" fill="#003399" stroke="#003399" stroke-width="0.4" stroke-linejoin="round"/>
<path d="M967.73,1816.09 A326.5,326.5 0 0 1 968.34,1817.54 Q667.2,1943.7 704.44,2275.92 A334.3,334.3 0 0 1 703.17,2276.06 Q667.2,1943.7 967.73,1816.09 Z" fill="#00CC00" stroke="#00CC00" stroke-width="0.4" stroke-linejoin="round"/>
<path d="M968.34,1817.54 A326.5,326.5 0 0 1 968.95,1819.00 Q667.2,1943.7 921.00,2161.28 A334.3,334.3 0 0 1 920.01,2162.44 Q667.2,1943.7 968.34,1817.54 Z" fill="#00CC00" stroke="#00CC00" stroke-width="0.4" stroke-linejoin="round"/>
<path d="M845.99,1670.51 A326.5,326.5 0 0 1 847.08,1671.22 Q667.2,1943.7 687.75,2277.37 A334.3,334.3 0 0 1 686.70,2277.43 Q667.2,1943.7 845.99,1670.51 Z" fill="#003399" stroke="#003399" stroke-width="0.4" stroke-linejoin="round"/>
<path d="M977.81,1843.07 A326.5,326.5 0 0 1 978.19,1844.27 Q667.2,1943.7 461.66,2207.34 A334.3,334.3 0 0 1 460.33,2206.31 Q667.2,1943.7 977.81,1843.07 Z" fill="#00CC00" stroke="#00CC00" stroke-width="0.4" stroke-linejoin="round"/>
<path d="M978.19,1844.27 A326.5,326.5 0 0 1 978.57,1845.47 Q667.2,1943.7 705.46,2275.80 A334.3,334.3 0 0 1 704.44,2275.92 Q667.2,1943.7 978.19,1844.27 Z" fill="#00CC00" stroke="#00CC00" stroke-width="0.4" stroke-linejoin="round"/>
<path d="M993.34,1959.04 A326.5,326.5 0 0 1 993.28,1960.25 Q667.2,1943.7 927.71,2153.20 A334.3,334.3 0 0 1 926.98,2154.11 Q667.2,1943.7 993.34,1959.04 Z" fill="#003399" stroke="#003399" stroke-width="0.4" stroke-linejoin="round"/>
<path d="M991.32,1983.01 A326.5,326.5 0 0 1 991.21,1983.97 Q667.2,1943.7 928.71,2151.96 A334.3,334.3 0 0 1 928.12,2152.69 Q667.2,1943.7 991.32,1983.01 Z" fill="#003399" stroke="#003399" stroke-width="0.4" stroke-linejoin="round"/>
<path d="M807.78,1649.02 A326.5,326.5 0 0 1 808.64,1649.43 Q667.2,1943.7 447.28,2195.48 A334.3,334.3 0 0 1 446.32,2194.64 Q667.2,1943.7 807.78,1649.02 Z" fill="#00CC00" stroke="#00CC00" stroke-width="0.4" stroke-linejoin="round"/>
<path d="M993.57,1934.49 A326.5,326.5 0 0 1 993.59,1935.41 Q667.2,1943.7 926.52,2154.68 A334.3,334.3 0 0 1 925.96,2155.36 Q667.2,1943.7 993.57,1934.49 Z" fill="#00CC00" stroke="#00CC00" stroke-width="0.4" stroke-linejoin="round"/>
<path d="M993.68,1947.22 A326.5,326.5 0 0 1 993.67,1947.98 Q667.2,1943.7 926.98,2154.11 A334.3,334.3 0 0 1 926.52,2154.68 Q667.2,1943.7 993.68,1947.22 Z" fill="#00CC00"/>
<path d="M991.83,1908.79 A326.5,326.5 0 0 1 991.91,1909.51 Q667.2,1943.7 708.01,2275.50 A334.3,334.3 0 0 1 707.42,2275.57 Q667.2,1943.7 991.83,1908.79 Z" fill="#00CC00"/>
<path d="M991.91,1909.51 A326.5,326.5 0 0 1 991.98,1910.24 Q667.2,1943.7 925.54,2155.87 A334.3,334.3 0 0 1 925.10,2156.41 Q667.2,1943.7 991.91,1909.51 Z" fill="#00CC00"/>
<path d="M932.90,1753.95 A326.5,326.5 0 0 1 933.32,1754.53 Q667.2,1943.7 914.04,2169.15 A334.3,334.3 0 0 1 913.57,2169.66 Q667.2,1943.7 932.90,1753.95 Z" fill="#FFCC00"/>
<path d="M992.96,1921.73 A326.5,326.5 0 0 1 993.00,1922.40 Q667.2,1943.7 708.56,2275.43 A334.3,334.3 0 0 1 708.01,2275.50 Q667.2,1943.7 992.96,1921.73 Z" fill="#00CC00"/>
<path d="M993.00,1922.40 A326.5,326.5 0 0 1 993.05,1923.08 Q667.2,1943.7 925.96,2155.36 A334.3,334.3 0 0 1 925.54,2155.87 Q667.2,1943.7 993.00,1922.40 Z" fill="#00CC00"/>
<path d="M992.50,1971.68 A326.5,326.5 0 0 1 992.44,1972.36 Q667.2,1943.7 928.12,2152.69 A334.3,334.3 0 0 1 927.71,2153.20 Q667.2,1943.7 992.50,1971.68 Z" fill="#00CC00"/>
<path d="M993.69,1946.72 A326.5,326.5 0 0 1 993.68,1947.22 Q667.2,1943.7 708.96,2275.38 A334.3,334.3 0 0 1 708.56,2275.43 Q667.2,1943.7 993.69,1946.72 Z" fill="#00CC00"/>
<path d="M981.91,2030.67 A326.5,326.5 0 0 1 981.78,2031.13 Q667.2,1943.7 929.75,2150.63 A334.3,334.3 0 0 1 929.46,2151.00 Q667.2,1943.7 981.91,2030.67 Z" fill="#00CC00"/>
<path d="M989.60,1995.26 A326.5,326.5 0 0 1 989.53,1995.72 Q667.2,1943.7 928.99,2151.60 A334.3,334.3 0 0 1 928.71,2151.96 Q667.2,1943.7 989.60,1995.26 Z" fill="#00CC00"/>
<path d="M987.45,2007.28 A326.5,326.5 0 0 1 987.37,2007.68 Q667.2,1943.7 929.23,2151.30 A334.3,334.3 0 0 1 928.99,2151.60 Q667.2,1943.7 987.45,2007.28 Z" fill="#00CC00"/>
<path d="M993.56,1934.10 A326.5,326.5 0 0 1 993.57,1934.49 Q667.2,1943.7 464.01,2209.16 A334.3,334.3 0 0 1 463.59,2208.84 Q667.2,1943.7 993.56,1934.10 Z" fill="#00CC00"/>
<path d="M984.90,2018.99 A326.5,326.5 0 0 1 984.81,2019.37 Q667.2,1943.7 709.53,2275.31 A334.3,334.3 0 0 1 709.22,2275.35 Q667.2,1943.7 984.90,2018.99 Z" fill="#FFCC00"/>
<path d="M984.81,2019.37 A326.5,326.5 0 0 1 984.72,2019.74 Q667.2,1943.7 929.46,2151.00 A334.3,334.3 0 0 1 929.23,2151.30 Q667.2,1943.7 984.81,2019.37 Z" fill="#FFCC00"/>
<path d="M955.59,2096.78 A326.5,326.5 0 0 1 955.43,2097.08 Q667.2,1943.7 930.56,2149.61 A334.3,334.3 0 0 1 930.36,2149.87 Q667.2,1943.7 955.59,2096.78 Z" fill="#00CC00"/>
<path d="M989.65,1994.96 A326.5,326.5 0 0 1 989.60,1995.26 Q667.2,1943.7 709.22,2275.35 A334.3,334.3 0 0 1 708.96,2275.38 Q667.2,1943.7 989.65,1994.96 Z" fill="#00CC00"/>
<path d="M992.52,1971.39 A326.5,326.5 0 0 1 992.50,1971.68 Q667.2,1943.7 464.32,2209.40 A334.3,334.3 0 0 1 464.01,2209.16 Q667.2,1943.7 992.52,1971.39 Z" fill="#00CC00"/>
<path d="M978.41,2042.43 A326.5,326.5 0 0 1 978.33,2042.71 Q667.2,1943.7 929.93,2150.41 A334.3,334.3 0 0 1 929.75,2150.63 Q667.2,1943.7 978.41,2042.43 Z" fill="#00CC00"/>
<path d="M974.64,2053.62 A326.5,326.5 0 0 1 974.57,2053.81 Q667.2,1943.7 930.05,2150.26 A334.3,334.3 0 0 1 929.93,2150.41 Q667.2,1943.7 974.64,2053.62 Z" fill="#00CC00"/>
<path d="M960.87,2086.39 A326.5,326.5 0 0 1 960.78,2086.57 Q667.2,1943.7 930.36,2149.87 A334.3,334.3 0 0 1 930.24,2150.02 Q667.2,1943.7 960.87,2086.39 Z" fill="#00CC00"/>
<path d="M978.47,2042.25 A326.5,326.5 0 0 1 978.41,2042.43 Q667.2,1943.7 464.71,2209.69 A334.3,334.3 0 0 1 464.50,2209.54 Q667.2,1943.7 978.47,2042.25 Z" fill="#00CC00"/>
<path d="M970.45,2064.70 A326.5,326.5 0 0 1 970.38,2064.88 Q667.2,1943.7 930.16,2150.11 A334.3,334.3 0 0 1 930.05,2150.26 Q667.2,1943.7 970.45,2064.70 Z" fill="#00CC00"/>
<path d="M987.48,2007.11 A326.5,326.5 0 0 1 987.45,2007.28 Q667.2,1943.7 464.50,2209.54 A334.3,334.3 0 0 1 464.32,2209.40 Q667.2,1943.7 987.48,2007.11 Z" fill="#00CC00"/>
<path d="M974.69,2053.49 A326.5,326.5 0 0 1 974.64,2053.62 Q667.2,1943.7 709.64,2275.30 A334.3,334.3 0 0 1 709.53,2275.31 Q667.2,1943.7 974.69,2053.49 Z" fill="#00CC00"/>
<path d="M960.93,2086.27 A326.5,326.5 0 0 1 960.87,2086.39 Q667.2,1943.7 464.85,2209.80 A334.3,334.3 0 0 1 464.71,2209.69 Q667.2,1943.7 960.93,2086.27 Z" fill="#00CC00"/>
<path d="M965.87,2075.61 A326.5,326.5 0 0 1 965.82,2075.72 Q667.2,1943.7 709.74,2275.28 A334.3,334.3 0 0 1 709.64,2275.30 Q667.2,1943.7 965.87,2075.61 Z" fill="#FFCC00"/>
<path d="M965.82,2075.72 A326.5,326.5 0 0 1 965.77,2075.83 Q667.2,1943.7 930.24,2150.02 A334.3,334.3 0 0 1 930.16,2150.11 Q667.2,1943.7 965.82,2075.72 Z" fill="#FFCC00"/>
<path d="M314.20,1943.70 A353.0,353.0 0 0 1 563.11,1606.40 L566.06,1615.95 A343.0,343.0 0 0 0 324.20,1943.70 Z" fill="#FFCC00"/>
<path d="M333.90,1943.70 A333.3,333.3 0 0 1 369.63,1793.56 L372.67,1795.09 A329.9,329.9 0 0 0 337.30,1943.70 Z" fill="#F7B9A8"/>
<path d="M369.63,1793.56 A333.3,333.3 0 0 1 502.26,1654.07 L503.94,1657.03 A329.9,329.9 0 0 0 372.67,1795.09 Z" fill="#4DBDAA"/>
<path d="M502.26,1654.07 A333.3,333.3 0 0 1 568.92,1625.22 L569.92,1628.47 A329.9,329.9 0 0 0 503.94,1657.03 Z" fill="#7B8BB0"/>
<path d="M314.20,1943.70 A353.0,353.0 0 0 1 563.11,1606.40 M314.20,1943.70 L311.20,1943.70 M314.36,1933.18 L312.36,1933.12 M314.83,1922.67 L312.83,1922.55 M315.61,1912.17 L313.62,1911.99 M316.71,1901.71 L314.72,1901.47 M318.11,1891.28 L315.15,1890.83 M319.83,1880.90 L317.86,1880.54 M321.86,1870.57 L319.90,1870.16 M324.19,1860.31 L322.25,1859.84 M326.83,1850.13 L324.90,1849.59 M329.77,1840.02 L326.90,1839.14 M333.01,1830.01 L331.12,1829.37 M336.55,1820.10 L334.67,1819.40 M340.38,1810.30 L338.53,1809.54 M344.50,1800.62 L342.67,1799.81 M348.91,1791.06 L346.20,1789.77 M353.60,1781.64 L351.82,1780.73 M358.57,1772.37 L356.82,1771.40 M363.81,1763.25 L362.09,1762.22 M369.32,1754.28 L367.64,1753.21 M375.10,1745.49 L372.62,1743.80 M381.14,1736.87 L379.52,1735.70 M387.43,1728.44 L385.85,1727.22 M393.97,1720.19 L392.42,1718.93 M400.76,1712.15 L399.25,1710.84 M407.78,1704.31 L405.57,1702.28 M415.03,1696.68 L413.60,1695.28 M422.50,1689.28 L421.11,1687.84 M430.19,1682.10 L428.85,1680.61 M438.09,1675.15 L436.80,1673.63 M446.20,1668.44 L444.32,1666.10 M454.50,1661.97 L453.30,1660.38 M463.00,1655.76 L461.84,1654.13 M471.67,1649.80 L470.56,1648.14 M480.51,1644.10 L479.46,1642.41 M489.53,1638.67 L488.02,1636.08 M498.70,1633.51 L497.74,1631.76 M508.02,1628.63 L507.12,1626.84 M517.48,1624.02 L516.63,1622.21 M527.07,1619.70 L526.28,1617.87 M536.79,1615.67 L535.69,1612.88 M546.63,1611.93 L545.95,1610.05 M556.57,1608.48 L555.94,1606.58" fill="none" stroke="#000" stroke-width="0.9"/>
<text transform="translate(306.20,1943.70) rotate(270.00)" font-family="Liberation Sans" font-size="7" text-anchor="middle" dy="2.4" fill="#000">0</text>
<text transform="translate(310.20,1890.09) rotate(278.54)" font-family="Liberation Sans" font-size="7" text-anchor="middle" dy="2.4" fill="#000">0.2</text>
<text transform="translate(322.12,1837.67) rotate(287.08)" font-family="Liberation Sans" font-size="7" text-anchor="middle" dy="2.4" fill="#000">0.4</text>
<text transform="translate(341.69,1787.60) rotate(295.62)" font-family="Liberation Sans" font-size="7" text-anchor="middle" dy="2.4" fill="#000">0.6</text>
<text transform="translate(368.48,1741.00) rotate(304.16)" font-family="Liberation Sans" font-size="7" text-anchor="middle" dy="2.4" fill="#000">0.8</text>
<text transform="translate(401.90,1698.88) rotate(312.70)" font-family="Liberation Sans" font-size="7" text-anchor="middle" dy="2.4" fill="#000">1</text>
<text transform="translate(441.19,1662.20) rotate(321.24)" font-family="Liberation Sans" font-size="7" text-anchor="middle" dy="2.4" fill="#000">1.2</text>
<text transform="translate(485.50,1631.76) rotate(329.78)" font-family="Liberation Sans" font-size="7" text-anchor="middle" dy="2.4" fill="#000">1.4</text>
<text transform="translate(533.84,1608.24) rotate(338.32)" font-family="Liberation Sans" font-size="7" text-anchor="middle" dy="2.4" fill="#000">1.6</text>
<path d="M574.29,1603.15 A353.0,353.0 0 0 1 683.83,1591.09 L683.36,1601.08 A343.0,343.0 0 0 0 576.92,1612.79 Z" fill="#00CC00"/>
<path d="M579.48,1622.15 A333.3,333.3 0 0 1 644.71,1611.16 L644.94,1614.55 A329.9,329.9 0 0 0 580.37,1625.43 Z" fill="#F7B9A8"/>
<path d="M644.71,1611.16 A333.3,333.3 0 0 1 662.31,1610.44 L662.36,1613.84 A329.9,329.9 0 0 0 644.94,1614.55 Z" fill="#4DBDAA"/>
<path d="M662.31,1610.44 A333.3,333.3 0 0 1 682.90,1610.77 L682.74,1614.17 A329.9,329.9 0 0 0 662.36,1613.84 Z" fill="#7B8BB0"/>
<path d="M574.29,1603.15 A353.0,353.0 0 0 1 683.83,1591.09 M574.29,1603.15 L573.50,1600.25 M584.48,1600.53 L584.01,1598.58 M594.75,1598.22 L594.34,1596.26 M605.08,1596.21 L604.73,1594.24 M615.46,1594.51 L615.17,1592.53 M625.89,1593.13 L625.54,1590.15 M636.36,1592.05 L636.19,1590.06 M646.86,1591.29 L646.74,1589.29 M657.37,1590.84 L657.31,1588.84 M667.89,1590.70 L667.89,1588.70 M678.41,1590.88 L678.51,1587.88" fill="none" stroke="#000" stroke-width="0.9"/>
<text transform="translate(572.18,1595.43) rotate(344.74)" font-family="Liberation Sans" font-size="7" text-anchor="middle" dy="2.4" fill="#000">0</text>
<text transform="translate(624.96,1585.18) rotate(353.28)" font-family="Liberation Sans" font-size="7" text-anchor="middle" dy="2.4" fill="#000">0.2</text>
<text transform="translate(678.67,1582.88) rotate(1.82)" font-family="Liberation Sans" font-size="7" text-anchor="middle" dy="2.4" fill="#000">0.4</text>
<path d="M695.57,1591.84 A353.0,353.0 0 0 1 764.20,1604.29 L761.46,1613.90 A343.0,343.0 0 0 0 694.77,1601.81 Z" fill="#00CC00"/>
<path d="M693.99,1611.48 A333.3,333.3 0 0 1 758.79,1623.23 L757.86,1626.50 A329.9,329.9 0 0 0 693.72,1614.87 Z" fill="#7B8BB0"/>
<path d="M695.57,1591.84 A353.0,353.0 0 0 1 764.20,1604.29 M695.57,1591.84 L695.81,1588.85 M706.05,1592.84 L706.27,1590.86 M716.49,1594.16 L716.77,1592.18 M726.88,1595.78 L727.22,1593.81 M737.23,1597.72 L737.62,1595.76 M747.51,1599.96 L748.19,1597.04 M757.72,1602.50 L758.23,1600.57" fill="none" stroke="#000" stroke-width="0.9"/>
<text transform="translate(696.21,1583.87) rotate(4.61)" font-family="Liberation Sans" font-size="7" text-anchor="middle" dy="2.4" fill="#000">0</text>
<text transform="translate(749.33,1592.17) rotate(13.15)" font-family="Liberation Sans" font-size="7" text-anchor="middle" dy="2.4" fill="#000">0.2</text>
<path d="M774.41,1607.37 A353.0,353.0 0 0 1 806.15,1619.20 L802.21,1628.39 A343.0,343.0 0 0 0 771.37,1616.90 Z" fill="#FFCC00"/>
<path d="M768.42,1626.14 A333.3,333.3 0 0 1 773.03,1627.65 L771.95,1630.87 A329.9,329.9 0 0 0 767.39,1629.38 Z" fill="#F7B9A8"/>
<path d="M773.03,1627.65 A333.3,333.3 0 0 1 782.86,1631.11 L781.68,1634.30 A329.9,329.9 0 0 0 771.95,1630.87 Z" fill="#4DBDAA"/>
<path d="M782.86,1631.11 A333.3,333.3 0 0 1 798.39,1637.31 L797.06,1640.43 A329.9,329.9 0 0 0 781.68,1634.30 Z" fill="#7B8BB0"/>
<path d="M774.41,1607.37 A353.0,353.0 0 0 1 806.15,1619.20 M774.41,1607.37 L775.32,1604.51 M784.38,1610.72 L785.05,1608.83 M794.26,1614.36 L794.98,1612.49 M804.02,1618.29 L804.79,1616.45" fill="none" stroke="#000" stroke-width="0.9"/>
<path d="M819.19,1625.10 A353.0,353.0 0 0 1 828.42,1629.67 L823.86,1638.56 A343.0,343.0 0 0 0 814.89,1634.12 Z" fill="#00CC00"/>
<path d="M810.71,1642.88 A333.3,333.3 0 0 1 811.59,1643.30 L810.11,1646.36 A329.9,329.9 0 0 0 809.25,1645.95 Z" fill="#F7B9A8"/>
<path d="M811.59,1643.30 A333.3,333.3 0 0 1 819.43,1647.19 L817.87,1650.22 A329.9,329.9 0 0 0 810.11,1646.36 Z" fill="#7B8BB0"/>
<path d="M819.19,1625.10 A353.0,353.0 0 0 1 828.42,1629.67 M819.19,1625.10 L820.48,1622.39" fill="none" stroke="#000" stroke-width="0.9"/>
<path d="M840.57,1636.21 A353.0,353.0 0 0 1 848.77,1640.98 L843.63,1649.55 A343.0,343.0 0 0 0 835.66,1644.92 Z" fill="#003399"/>
<path d="M830.89,1653.37 A333.3,333.3 0 0 1 838.64,1657.87 L836.89,1660.79 A329.9,329.9 0 0 0 829.22,1656.33 Z" fill="#7B8BB0"/>
<path d="M840.57,1636.21 A353.0,353.0 0 0 1 848.77,1640.98 M840.57,1636.21 L842.04,1633.59" fill="none" stroke="#000" stroke-width="0.9"/>
<path d="M860.51,1648.33 A353.0,353.0 0 0 1 868.24,1653.54 L862.55,1661.76 A343.0,343.0 0 0 0 855.03,1656.70 Z" fill="#003399"/>
<path d="M849.72,1664.82 A333.3,333.3 0 0 1 850.82,1665.54 L848.95,1668.38 A329.9,329.9 0 0 0 847.86,1667.66 Z" fill="#4DBDAA"/>
<path d="M850.82,1665.54 A333.3,333.3 0 0 1 857.02,1669.74 L855.08,1672.53 A329.9,329.9 0 0 0 848.95,1668.38 Z" fill="#7B8BB0"/>
<path d="M860.51,1648.33 A353.0,353.0 0 0 1 868.24,1653.54 M860.51,1648.33 L862.15,1645.82" fill="none" stroke="#000" stroke-width="0.9"/>
<path d="M878.81,1661.16 A353.0,353.0 0 0 1 886.03,1666.71 L879.83,1674.56 A343.0,343.0 0 0 0 872.81,1669.16 Z" fill="#00CC00"/>
<path d="M867.00,1676.92 A333.3,333.3 0 0 1 870.42,1679.52 L868.35,1682.22 A329.9,329.9 0 0 0 864.96,1679.64 Z" fill="#F7B9A8"/>
<path d="M870.42,1679.52 A333.3,333.3 0 0 1 873.81,1682.17 L871.71,1684.84 A329.9,329.9 0 0 0 868.35,1682.22 Z" fill="#4DBDAA"/>
<path d="M878.81,1661.16 A353.0,353.0 0 0 1 886.03,1666.71 M878.81,1661.16 L880.61,1658.75" fill="none" stroke="#000" stroke-width="0.9"/>
<path d="M895.41,1674.39 A353.0,353.0 0 0 1 902.04,1680.15 L895.39,1687.61 A343.0,343.0 0 0 0 888.94,1682.02 Z" fill="#00CC00"/>
<path d="M882.67,1689.42 A333.3,333.3 0 0 1 888.93,1694.86 L886.67,1697.39 A329.9,329.9 0 0 0 880.48,1692.01 Z" fill="#7B8BB0"/>
<path d="M895.41,1674.39 A353.0,353.0 0 0 1 902.04,1680.15 M895.41,1674.39 L897.35,1672.10" fill="none" stroke="#000" stroke-width="0.9"/>
<path d="M910.51,1687.95 A353.0,353.0 0 0 1 917.10,1694.39 L910.03,1701.45 A343.0,343.0 0 0 0 903.62,1695.19 Z" fill="#00CC00"/>
<path d="M896.93,1702.22 A333.3,333.3 0 0 1 903.16,1708.30 L900.75,1710.70 A329.9,329.9 0 0 0 894.59,1704.68 Z" fill="#F7B9A8"/>
<path d="M910.51,1687.95 A353.0,353.0 0 0 1 917.10,1694.39 M910.51,1687.95 L912.58,1685.77" fill="none" stroke="#000" stroke-width="0.9"/>
<path d="M925.26,1702.84 A353.0,353.0 0 0 1 931.03,1709.17 L923.56,1715.82 A343.0,343.0 0 0 0 917.95,1709.66 Z" fill="#00CC00"/>
<path d="M910.86,1716.28 A333.3,333.3 0 0 1 916.31,1722.26 L913.77,1724.52 A329.9,329.9 0 0 0 908.37,1718.60 Z" fill="#7B8BB0"/>
<path d="M925.26,1702.84 A353.0,353.0 0 0 1 931.03,1709.17 M925.26,1702.84 L927.46,1700.79" fill="none" stroke="#000" stroke-width="0.9"/>
<path d="M937.91,1717.15 A353.0,353.0 0 0 1 943.33,1723.78 L935.50,1730.01 A343.0,343.0 0 0 0 930.24,1723.57 Z" fill="#003399"/>
<path d="M922.80,1729.79 A333.3,333.3 0 0 1 927.92,1736.06 L925.26,1738.18 A329.9,329.9 0 0 0 920.19,1731.97 Z" fill="#7B8BB0"/>
<path d="M937.91,1717.15 A353.0,353.0 0 0 1 943.33,1723.78 M937.91,1717.15 L940.21,1715.22" fill="none" stroke="#000" stroke-width="0.9"/>
<path d="M950.32,1732.87 A353.0,353.0 0 0 1 954.92,1739.18 L946.77,1744.98 A343.0,343.0 0 0 0 942.30,1738.84 Z" fill="#FFCC00"/>
<path d="M934.52,1744.63 A333.3,333.3 0 0 1 938.43,1749.99 L935.67,1751.97 A329.9,329.9 0 0 0 931.80,1746.67 Z" fill="#4DBDAA"/>
<path d="M938.43,1749.99 A333.3,333.3 0 0 1 938.86,1750.60 L936.09,1752.57 A329.9,329.9 0 0 0 935.67,1751.97 Z" fill="#7B8BB0"/>
<path d="M950.32,1732.87 A353.0,353.0 0 0 1 954.92,1739.18 M950.32,1732.87 L952.73,1731.08" fill="none" stroke="#000" stroke-width="0.9"/>
<path d="M960.77,1747.67 A353.0,353.0 0 0 1 964.10,1752.75 L955.69,1758.16 A343.0,343.0 0 0 0 952.45,1753.23 Z" fill="#FFCC00"/>
<path d="M944.38,1758.61 A333.3,333.3 0 0 1 946.59,1761.96 L943.74,1763.82 A329.9,329.9 0 0 0 941.56,1760.50 Z" fill="#4DBDAA"/>
<path d="M946.59,1761.96 A333.3,333.3 0 0 1 947.53,1763.41 L944.67,1765.25 A329.9,329.9 0 0 0 943.74,1763.82 Z" fill="#7B8BB0"/>
<path d="M960.77,1747.67 A353.0,353.0 0 0 1 964.10,1752.75 M960.77,1747.67 L963.26,1746.01" fill="none" stroke="#000" stroke-width="0.9"/>
<path d="M969.52,1761.46 A353.0,353.0 0 0 1 971.92,1765.51 L963.29,1770.56 A343.0,343.0 0 0 0 960.95,1766.62 Z" fill="#00CC00"/>
<path d="M952.65,1771.63 A333.3,333.3 0 0 1 954.92,1775.45 L951.98,1777.17 A329.9,329.9 0 0 0 949.73,1773.38 Z" fill="#4DBDAA"/>
<path d="M969.52,1761.46 A353.0,353.0 0 0 1 971.92,1765.51 M969.52,1761.46 L972.09,1759.91" fill="none" stroke="#000" stroke-width="0.9"/>
<path d="M977.98,1776.29 A353.0,353.0 0 0 1 980.06,1780.22 L971.20,1784.85 A343.0,343.0 0 0 0 969.17,1781.03 Z" fill="#003399"/>
<path d="M960.63,1785.63 A333.3,333.3 0 0 1 962.60,1789.34 L959.59,1790.92 A329.9,329.9 0 0 0 957.64,1787.24 Z" fill="#7B8BB0"/>
<path d="M977.98,1776.29 A353.0,353.0 0 0 1 980.06,1780.22 M977.98,1776.29 L980.62,1774.86" fill="none" stroke="#000" stroke-width="0.9"/>
<path d="M985.56,1791.20 A353.0,353.0 0 0 1 987.17,1794.61 L978.10,1798.83 A343.0,343.0 0 0 0 976.54,1795.52 Z" fill="#003399"/>
<path d="M967.79,1799.71 A333.3,333.3 0 0 1 969.31,1802.93 L966.23,1804.36 A329.9,329.9 0 0 0 964.72,1801.18 Z" fill="#7B8BB0"/>
<path d="M985.56,1791.20 A353.0,353.0 0 0 1 987.17,1794.61 M985.56,1791.20 L988.26,1789.90" fill="none" stroke="#000" stroke-width="0.9"/>
<path d="M992.12,1805.74 A353.0,353.0 0 0 1 993.44,1808.88 L984.20,1812.70 A343.0,343.0 0 0 0 982.92,1809.64 Z" fill="#00CC00"/>
<path d="M973.99,1813.44 A333.3,333.3 0 0 1 974.61,1814.92 L971.48,1816.23 A329.9,329.9 0 0 0 970.86,1814.76 Z" fill="#4DBDAA"/>
<path d="M974.61,1814.92 A333.3,333.3 0 0 1 975.23,1816.40 L972.09,1817.70 A329.9,329.9 0 0 0 971.48,1816.23 Z" fill="#7B8BB0"/>
<path d="M992.12,1805.74 A353.0,353.0 0 0 1 993.44,1808.88 M992.12,1805.74 L994.88,1804.56" fill="none" stroke="#000" stroke-width="0.9"/>
<path d="M998.09,1820.74 A353.0,353.0 0 0 1 999.17,1823.69 L989.77,1827.09 A343.0,343.0 0 0 0 988.72,1824.22 Z" fill="#00CC00"/>
<path d="M979.63,1827.60 A333.3,333.3 0 0 1 980.65,1830.39 L977.45,1831.54 A329.9,329.9 0 0 0 976.44,1828.79 Z" fill="#7B8BB0"/>
<path d="M998.09,1820.74 A353.0,353.0 0 0 1 999.17,1823.69 M998.09,1820.74 L1000.90,1819.70" fill="none" stroke="#000" stroke-width="0.9"/>
<path d="M1003.02,1834.90 A353.0,353.0 0 0 1 1003.85,1837.50 L994.31,1840.51 A343.0,343.0 0 0 0 993.50,1837.99 Z" fill="#00CC00"/>
<path d="M984.28,1840.98 A333.3,333.3 0 0 1 984.67,1842.20 L981.43,1843.23 A329.9,329.9 0 0 0 981.04,1842.02 Z" fill="#F7B9A8"/>
<path d="M984.67,1842.20 A333.3,333.3 0 0 1 985.06,1843.42 L981.82,1844.45 A329.9,329.9 0 0 0 981.43,1843.23 Z" fill="#4DBDAA"/>
<path d="M1003.02,1834.90 A353.0,353.0 0 0 1 1003.85,1837.50 M1003.02,1834.90 L1005.87,1833.98" fill="none" stroke="#000" stroke-width="0.9"/>
<path d="M1007.52,1849.94 A353.0,353.0 0 0 1 1008.21,1852.47 L998.55,1855.06 A343.0,343.0 0 0 0 997.88,1852.60 Z" fill="#FFCC00"/>
<path d="M988.53,1855.18 A333.3,333.3 0 0 1 989.18,1857.56 L985.89,1858.44 A329.9,329.9 0 0 0 985.25,1856.08 Z" fill="#4DBDAA"/>
<path d="M1007.52,1849.94 A353.0,353.0 0 0 1 1008.21,1852.47 M1007.52,1849.94 L1010.41,1849.15" fill="none" stroke="#000" stroke-width="0.9"/>
<path d="M1011.18,1864.42 A353.0,353.0 0 0 1 1011.67,1866.57 L1001.91,1868.75 A343.0,343.0 0 0 0 1001.44,1866.67 Z" fill="#003399"/>
<path d="M991.99,1868.85 A333.3,333.3 0 0 1 992.45,1870.87 L989.13,1871.61 A329.9,329.9 0 0 0 988.67,1869.61 Z" fill="#7B8BB0"/>
<path d="M1011.18,1864.42 A353.0,353.0 0 0 1 1011.67,1866.57 M1011.18,1864.42 L1014.11,1863.75" fill="none" stroke="#000" stroke-width="0.9"/>
<path d="M1014.09,1878.33 A353.0,353.0 0 0 1 1014.46,1880.29 L1004.62,1882.09 A343.0,343.0 0 0 0 1004.27,1880.18 Z" fill="#00CC00"/>
<path d="M994.74,1881.98 A333.3,333.3 0 0 1 995.08,1883.83 L991.73,1884.44 A329.9,329.9 0 0 0 991.39,1882.61 Z" fill="#F7B9A8"/>
<path d="M1014.09,1878.33 A353.0,353.0 0 0 1 1014.46,1880.29 M1014.09,1878.33 L1017.04,1877.78" fill="none" stroke="#000" stroke-width="0.9"/>
<path d="M1016.46,1892.47 A353.0,353.0 0 0 1 1016.72,1894.23 L1006.82,1895.63 A343.0,343.0 0 0 0 1006.57,1893.92 Z" fill="#003399"/>
<path d="M996.97,1895.33 A333.3,333.3 0 0 1 997.21,1896.99 L993.84,1897.47 A329.9,329.9 0 0 0 993.61,1895.82 Z" fill="#7B8BB0"/>
<path d="M1016.46,1892.47 A353.0,353.0 0 0 1 1016.72,1894.23 M1016.46,1892.47 L1019.43,1892.04" fill="none" stroke="#000" stroke-width="0.9"/>
<path d="M1018.18,1905.96 A353.0,353.0 0 0 1 1018.34,1907.52 L1008.39,1908.55 A343.0,343.0 0 0 0 1008.23,1907.03 Z" fill="#00CC00"/>
<path d="M998.59,1908.07 A333.3,333.3 0 0 1 998.67,1908.80 L995.29,1909.16 A329.9,329.9 0 0 0 995.21,1908.43 Z" fill="#4DBDAA"/>
<path d="M998.67,1908.80 A333.3,333.3 0 0 1 998.74,1909.54 L995.36,1909.89 A329.9,329.9 0 0 0 995.29,1909.16 Z" fill="#7B8BB0"/>
<path d="M1018.18,1905.96 A353.0,353.0 0 0 1 1018.34,1907.52 M1018.18,1905.96 L1021.16,1905.64" fill="none" stroke="#000" stroke-width="0.9"/>
<path d="M1019.40,1919.94 A353.0,353.0 0 0 1 1019.50,1921.41 L1009.52,1922.04 A343.0,343.0 0 0 0 1009.42,1920.62 Z" fill="#00CC00"/>
<path d="M999.74,1921.27 A333.3,333.3 0 0 1 999.79,1921.96 L996.40,1922.18 A329.9,329.9 0 0 0 996.35,1921.50 Z" fill="#4DBDAA"/>
<path d="M999.79,1921.96 A333.3,333.3 0 0 1 999.83,1922.65 L996.44,1922.86 A329.9,329.9 0 0 0 996.40,1922.18 Z" fill="#7B8BB0"/>
<path d="M1019.40,1919.94 A353.0,353.0 0 0 1 1019.50,1921.41 M1019.40,1919.94 L1022.39,1919.74" fill="none" stroke="#000" stroke-width="0.9"/>
<path d="M1020.05,1933.32 A353.0,353.0 0 0 1 1020.09,1934.74 L1010.09,1934.99 A343.0,343.0 0 0 0 1010.05,1933.62 Z" fill="#00CC00"/>
<path d="M1000.36,1933.90 A333.3,333.3 0 0 1 1000.37,1934.30 L996.97,1934.40 A329.9,329.9 0 0 0 996.96,1934.00 Z" fill="#F7B9A8"/>
<path d="M1000.37,1934.30 A333.3,333.3 0 0 1 1000.39,1935.24 L996.99,1935.32 A329.9,329.9 0 0 0 996.97,1934.40 Z" fill="#7B8BB0"/>
<path d="M1020.05,1933.32 A353.0,353.0 0 0 1 1020.09,1934.74 M1020.05,1933.32 L1023.05,1933.23" fill="none" stroke="#000" stroke-width="0.9"/>
<path d="M1020.18,1946.96 A353.0,353.0 0 0 1 1020.17,1948.32 L1010.17,1948.19 A343.0,343.0 0 0 0 1010.19,1946.87 Z" fill="#00CC00"/>
<path d="M1000.49,1946.78 A333.3,333.3 0 0 1 1000.48,1947.29 L997.08,1947.26 A329.9,329.9 0 0 0 997.09,1946.75 Z" fill="#4DBDAA"/>
<path d="M1000.48,1947.29 A333.3,333.3 0 0 1 1000.47,1948.07 L997.07,1948.02 A329.9,329.9 0 0 0 997.08,1947.26 Z" fill="#7B8BB0"/>
<path d="M1020.18,1946.96 A353.0,353.0 0 0 1 1020.17,1948.32 M1020.18,1946.96 L1023.18,1946.99" fill="none" stroke="#000" stroke-width="0.9"/>
<path d="M1019.81,1960.29 A353.0,353.0 0 0 1 1019.75,1961.60 L1009.76,1961.09 A343.0,343.0 0 0 0 1009.82,1959.82 Z" fill="#003399"/>
<path d="M1000.13,1959.36 A333.3,333.3 0 0 1 1000.07,1960.60 L996.68,1960.43 A329.9,329.9 0 0 0 996.74,1959.20 Z" fill="#7B8BB0"/>
<path d="M1019.81,1960.29 A353.0,353.0 0 0 1 1019.75,1961.60 M1019.81,1960.29 L1022.81,1960.43" fill="none" stroke="#000" stroke-width="0.9"/>
<path d="M1018.93,1973.64 A353.0,353.0 0 0 1 1018.84,1974.68 L1008.88,1973.80 A343.0,343.0 0 0 0 1008.96,1972.79 Z" fill="#00CC00"/>
<path d="M999.30,1971.97 A333.3,333.3 0 0 1 999.27,1972.26 L995.89,1971.97 A329.9,329.9 0 0 0 995.91,1971.68 Z" fill="#F7B9A8"/>
<path d="M999.27,1972.26 A333.3,333.3 0 0 1 999.21,1972.95 L995.83,1972.65 A329.9,329.9 0 0 0 995.89,1971.97 Z" fill="#7B8BB0"/>
<path d="M1018.93,1973.64 A353.0,353.0 0 0 1 1018.84,1974.68 M1018.93,1973.64 L1021.92,1973.89" fill="none" stroke="#000" stroke-width="0.9"/>
<path d="M1017.63,1986.20 A353.0,353.0 0 0 1 1017.50,1987.24 L1007.58,1986.01 A343.0,343.0 0 0 0 1007.70,1985.00 Z" fill="#003399"/>
<path d="M998.08,1983.83 A333.3,333.3 0 0 1 997.96,1984.81 L994.58,1984.39 A329.9,329.9 0 0 0 994.70,1983.42 Z" fill="#7B8BB0"/>
<path d="M1017.63,1986.20 A353.0,353.0 0 0 1 1017.50,1987.24 M1017.63,1986.20 L1020.61,1986.56" fill="none" stroke="#000" stroke-width="0.9"/>
<path d="M1015.84,1999.01 A353.0,353.0 0 0 1 1015.67,2000.05 L1005.80,1998.45 A343.0,343.0 0 0 0 1005.96,1997.45 Z" fill="#00CC00"/>
<path d="M996.37,1996.02 A333.3,333.3 0 0 1 996.32,1996.34 L992.96,1995.80 A329.9,329.9 0 0 0 993.01,1995.49 Z" fill="#4DBDAA"/>
<path d="M996.32,1996.34 A333.3,333.3 0 0 1 996.24,1996.80 L992.89,1996.26 A329.9,329.9 0 0 0 992.96,1995.80 Z" fill="#7B8BB0"/>
<path d="M1015.82,1999.12 A353.0,353.0 0 0 1 1015.69,1999.94 M1015.82,1999.12 L1018.79,1999.59" fill="none" stroke="#000" stroke-width="0.9"/>
<path d="M1013.52,2012.05 A353.0,353.0 0 0 1 1013.31,2013.08 L1003.51,2011.11 A343.0,343.0 0 0 0 1003.71,2010.12 Z" fill="#00CC00"/>
<path d="M994.15,2008.43 A333.3,333.3 0 0 1 994.12,2008.61 L990.78,2007.95 A329.9,329.9 0 0 0 990.82,2007.77 Z" fill="#F7B9A8"/>
<path d="M994.12,2008.61 A333.3,333.3 0 0 1 994.04,2009.01 L990.70,2008.35 A329.9,329.9 0 0 0 990.78,2007.95 Z" fill="#7B8BB0"/>
<path d="M1013.48,2012.26 A353.0,353.0 0 0 1 1013.36,2012.88 M1013.48,2012.26 L1016.42,2012.84" fill="none" stroke="#000" stroke-width="0.9"/>
<path d="M1010.71,2025.00 A353.0,353.0 0 0 1 1010.47,2026.02 L1000.74,2023.68 A343.0,343.0 0 0 0 1000.98,2022.69 Z" fill="#FFCC00"/>
<path d="M991.52,2020.56 A333.3,333.3 0 0 1 991.43,2020.94 L988.12,2020.15 A329.9,329.9 0 0 0 988.21,2019.77 Z" fill="#4DBDAA"/>
<path d="M991.43,2020.94 A333.3,333.3 0 0 1 991.33,2021.33 L988.03,2020.53 A329.9,329.9 0 0 0 988.12,2020.15 Z" fill="#7B8BB0"/>
<path d="M1010.69,2025.10 A353.0,353.0 0 0 1 1010.49,2025.91 M1010.69,2025.10 L1013.61,2025.79" fill="none" stroke="#000" stroke-width="0.9"/>
<path d="M1007.52,2037.47 A353.0,353.0 0 0 1 1007.24,2038.48 L997.60,2035.80 A343.0,343.0 0 0 0 997.88,2034.81 Z" fill="#00CC00"/>
<path d="M988.46,2032.48 A333.3,333.3 0 0 1 988.33,2032.95 L985.05,2032.04 A329.9,329.9 0 0 0 985.18,2031.57 Z" fill="#7B8BB0"/>
<path d="M1007.45,2037.72 A353.0,353.0 0 0 1 1007.31,2038.23 M1007.45,2037.72 L1010.34,2038.52" fill="none" stroke="#000" stroke-width="0.9"/>
<path d="M1003.82,2050.00 A353.0,353.0 0 0 1 1003.50,2050.99 L993.97,2047.95 A343.0,343.0 0 0 0 994.28,2046.98 Z" fill="#00CC00"/>
<path d="M984.96,2044.30 A333.3,333.3 0 0 1 984.90,2044.49 L981.65,2043.46 A329.9,329.9 0 0 0 981.71,2043.27 Z" fill="#F7B9A8"/>
<path d="M984.90,2044.49 A333.3,333.3 0 0 1 984.81,2044.77 L981.57,2043.74 A329.9,329.9 0 0 0 981.65,2043.46 Z" fill="#7B8BB0"/>
<path d="M1003.74,2050.25 A353.0,353.0 0 0 1 1003.58,2050.74 M1003.74,2050.25 L1006.60,2051.15" fill="none" stroke="#000" stroke-width="0.9"/>
<path d="M999.76,2062.09 A353.0,353.0 0 0 1 999.40,2063.07 L989.99,2059.69 A343.0,343.0 0 0 0 990.34,2058.73 Z" fill="#00CC00"/>
<path d="M981.09,2055.78 A333.3,333.3 0 0 1 981.04,2055.91 L977.84,2054.77 A329.9,329.9 0 0 0 977.89,2054.64 Z" fill="#4DBDAA"/>
<path d="M981.04,2055.91 A333.3,333.3 0 0 1 980.97,2056.11 L977.77,2054.96 A329.9,329.9 0 0 0 977.84,2054.77 Z" fill="#7B8BB0"/>
<path d="M999.64,2062.41 A353.0,353.0 0 0 1 999.52,2062.75 M999.64,2062.41 L1002.47,2063.41" fill="none" stroke="#000" stroke-width="0.9"/>
<path d="M995.22,2074.13 A353.0,353.0 0 0 1 994.83,2075.11 L985.55,2071.38 A343.0,343.0 0 0 0 985.93,2070.44 Z" fill="#00CC00"/>
<path d="M976.77,2067.22 A333.3,333.3 0 0 1 976.69,2067.41 L973.54,2066.14 A329.9,329.9 0 0 0 973.61,2065.96 Z" fill="#7B8BB0"/>
<path d="M995.06,2074.52 A353.0,353.0 0 0 1 994.99,2074.72 M995.06,2074.52 L997.85,2075.64" fill="none" stroke="#000" stroke-width="0.9"/>
<path d="M990.27,2085.95 A353.0,353.0 0 0 1 989.84,2086.91 L980.70,2082.86 A343.0,343.0 0 0 0 981.12,2081.92 Z" fill="#FFCC00"/>
<path d="M972.09,2078.35 A333.3,333.3 0 0 1 972.04,2078.47 L968.93,2077.09 A329.9,329.9 0 0 0 968.98,2076.98 Z" fill="#4DBDAA"/>
<path d="M972.04,2078.47 A333.3,333.3 0 0 1 971.99,2078.58 L968.88,2077.20 A329.9,329.9 0 0 0 968.93,2077.09 Z" fill="#7B8BB0"/>
<path d="M990.11,2086.31 A353.0,353.0 0 0 1 990.00,2086.55 M990.11,2086.31 L992.85,2087.53" fill="none" stroke="#000" stroke-width="0.9"/>
<path d="M984.92,2097.53 A353.0,353.0 0 0 1 984.46,2098.47 L975.47,2094.09 A343.0,343.0 0 0 0 975.92,2093.17 Z" fill="#00CC00"/>
<path d="M967.05,2089.24 A333.3,333.3 0 0 1 966.99,2089.36 L963.93,2087.87 A329.9,329.9 0 0 0 963.99,2087.75 Z" fill="#F7B9A8"/>
<path d="M966.99,2089.36 A333.3,333.3 0 0 1 966.90,2089.55 L963.84,2088.06 A329.9,329.9 0 0 0 963.93,2087.87 Z" fill="#7B8BB0"/>
<path d="M984.77,2097.84 A353.0,353.0 0 0 1 984.61,2098.17 M984.77,2097.84 L987.47,2099.15" fill="none" stroke="#000" stroke-width="0.9"/>
<path d="M979.15,2108.91 A353.0,353.0 0 0 1 978.66,2109.83 L969.84,2105.13 A343.0,343.0 0 0 0 970.32,2104.23 Z" fill="#00CC00"/>
<path d="M961.59,2099.97 A333.3,333.3 0 0 1 961.43,2100.28 L958.43,2098.68 A329.9,329.9 0 0 0 958.59,2098.38 Z" fill="#7B8BB0"/>
<path d="M979.00,2109.21 A353.0,353.0 0 0 1 978.82,2109.53 M979.00,2109.21 L981.65,2110.61" fill="none" stroke="#000" stroke-width="0.9"/>
<path d="M945.29,2161.13 A353.0,353.0 0 0 1 723.88,2292.12 L722.28,2282.25 A343.0,343.0 0 0 0 937.41,2154.97 Z" fill="#7B8BB0"/>
<path d="M945.29,2161.13 A353.0,353.0 0 0 1 723.88,2292.12 M945.29,2161.13 L947.66,2162.97 M938.69,2169.32 L940.23,2170.60 M931.84,2177.31 L933.34,2178.63 M924.76,2185.09 L926.22,2186.46 M917.45,2192.66 L918.87,2194.07 M909.92,2200.01 L911.98,2202.19 M902.17,2207.13 L903.50,2208.62 M894.22,2214.02 L895.50,2215.55 M886.06,2220.66 L887.30,2222.23 M877.71,2227.07 L878.90,2228.67 M869.17,2233.21 L870.88,2235.67 M860.45,2239.10 L861.54,2240.78 M851.56,2244.73 L852.60,2246.44 M842.50,2250.09 L843.50,2251.83 M833.29,2255.18 L834.23,2256.95 M823.94,2260.00 L825.27,2262.68 M814.44,2264.53 L815.27,2266.34 M804.81,2268.77 L805.59,2270.61 M795.06,2272.73 L795.78,2274.59 M785.20,2276.39 L785.86,2278.28 M775.23,2279.76 L776.15,2282.62 M765.16,2282.83 L765.72,2284.76 M755.01,2285.60 L755.51,2287.54 M744.78,2288.07 L745.22,2290.02 M734.48,2290.23 L734.86,2292.19 M724.12,2292.08 L724.61,2295.04" fill="none" stroke="#000" stroke-width="0.9"/>
<text transform="translate(951.59,2166.05) rotate(308.02)" font-family="Liberation Sans" font-size="7" text-anchor="middle" dy="2.4" fill="#000">0</text>
<text transform="translate(915.42,2205.82) rotate(316.56)" font-family="Liberation Sans" font-size="7" text-anchor="middle" dy="2.4" fill="#000">0.2</text>
<text transform="translate(873.74,2239.77) rotate(325.10)" font-family="Liberation Sans" font-size="7" text-anchor="middle" dy="2.4" fill="#000">0.4</text>
<text transform="translate(827.49,2267.16) rotate(333.64)" font-family="Liberation Sans" font-size="7" text-anchor="middle" dy="2.4" fill="#000">0.6</text>
<text transform="translate(777.68,2287.38) rotate(342.18)" font-family="Liberation Sans" font-size="7" text-anchor="middle" dy="2.4" fill="#000">0.8</text>
<text transform="translate(725.41,2299.98) rotate(350.72)" font-family="Liberation Sans" font-size="7" text-anchor="middle" dy="2.4" fill="#000">1</text>
<path d="M712.11,2293.83 A353.0,353.0 0 0 1 463.02,2231.65 L468.80,2223.50 A343.0,343.0 0 0 0 710.84,2283.91 Z" fill="#4DBDAA"/>
<path d="M712.11,2293.83 A353.0,353.0 0 0 1 463.02,2231.65 M712.11,2293.83 L712.50,2296.81 M701.66,2295.01 L701.85,2297.00 M691.17,2295.89 L691.31,2297.88 M680.66,2296.44 L680.74,2298.44 M670.14,2296.69 L670.16,2298.69 M659.62,2296.62 L659.56,2299.62 M649.11,2296.24 L649.00,2298.23 M638.61,2295.54 L638.45,2297.53 M628.13,2294.53 L627.91,2296.52 M617.69,2293.21 L617.41,2295.19 M607.30,2291.58 L606.79,2294.54 M596.96,2289.64 L596.56,2291.60 M586.68,2287.39 L586.22,2289.34 M576.47,2284.84 L575.95,2286.77 M566.34,2281.98 L565.77,2283.90 M556.30,2278.83 L555.36,2281.68 M546.36,2275.37 L545.68,2277.25 M536.53,2271.62 L535.79,2273.48 M526.81,2267.58 L526.02,2269.42 M517.22,2263.26 L516.37,2265.07 M507.77,2258.64 L506.41,2261.32 M498.45,2253.75 L497.49,2255.51 M489.28,2248.58 L488.27,2250.31 M480.27,2243.15 L479.22,2244.84 M471.43,2237.44 L470.32,2239.11" fill="none" stroke="#000" stroke-width="0.9"/>
<text transform="translate(713.13,2301.77) rotate(352.69)" font-family="Liberation Sans" font-size="7" text-anchor="middle" dy="2.4" fill="#000">0</text>
<text transform="translate(659.45,2304.62) rotate(361.23)" font-family="Liberation Sans" font-size="7" text-anchor="middle" dy="2.4" fill="#000">0.2</text>
<text transform="translate(605.94,2299.46) rotate(369.77)" font-family="Liberation Sans" font-size="7" text-anchor="middle" dy="2.4" fill="#000">0.4</text>
<text transform="translate(553.79,2286.42) rotate(378.31)" font-family="Liberation Sans" font-size="7" text-anchor="middle" dy="2.4" fill="#000">0.6</text>
<text transform="translate(504.15,2265.78) rotate(386.85)" font-family="Liberation Sans" font-size="7" text-anchor="middle" dy="2.4" fill="#000">0.8</text>
<path d="M453.53,2224.69 A353.0,353.0 0 0 1 319.56,2005.00 L329.41,2003.26 A343.0,343.0 0 0 0 459.58,2216.73 Z" fill="#F7B9A8"/>
<path d="M453.53,2224.69 A353.0,353.0 0 0 1 319.56,2005.00 M453.53,2224.69 L451.72,2227.08 M445.25,2218.20 L443.99,2219.75 M437.17,2211.46 L435.86,2212.98 M429.29,2204.48 L427.94,2205.96 M421.62,2197.28 L420.23,2198.71 M414.17,2189.84 L412.02,2191.94 M406.95,2182.19 L405.47,2183.54 M399.96,2174.33 L398.44,2175.64 M393.20,2166.26 L391.65,2167.52 M386.69,2158.00 L385.10,2159.21 M380.43,2149.54 L377.99,2151.29 M374.42,2140.90 L372.76,2142.02 M368.67,2132.09 L366.98,2133.15 M363.19,2123.11 L361.47,2124.12 M357.98,2113.96 L356.22,2114.93 M353.04,2104.67 L350.37,2106.04 M348.38,2095.24 L346.57,2096.10 M344.01,2085.67 L342.17,2086.47 M339.92,2075.97 L338.06,2076.72 M336.12,2066.16 L334.25,2066.85 M332.62,2056.23 L329.77,2057.19 M329.41,2046.21 L327.50,2046.79 M326.51,2036.10 L324.58,2036.62 M323.90,2025.90 L321.96,2026.37 M321.61,2015.63 L319.65,2016.04 M319.62,2005.30 L316.66,2005.82" fill="none" stroke="#000" stroke-width="0.9"/>
<text transform="translate(448.69,2231.06) rotate(397.25)" font-family="Liberation Sans" font-size="7" text-anchor="middle" dy="2.4" fill="#000">0</text>
<text transform="translate(408.44,2195.42) rotate(405.79)" font-family="Liberation Sans" font-size="7" text-anchor="middle" dy="2.4" fill="#000">0.2</text>
<text transform="translate(373.93,2154.20) rotate(414.33)" font-family="Liberation Sans" font-size="7" text-anchor="middle" dy="2.4" fill="#000">0.4</text>
<text transform="translate(345.92,2108.32) rotate(422.87)" font-family="Liberation Sans" font-size="7" text-anchor="middle" dy="2.4" fill="#000">0.6</text>
<text transform="translate(325.04,2058.78) rotate(431.41)" font-family="Liberation Sans" font-size="7" text-anchor="middle" dy="2.4" fill="#000">0.8</text>
<text transform="translate(311.74,2006.70) rotate(439.95)" font-family="Liberation Sans" font-size="7" text-anchor="middle" dy="2.4" fill="#000">1</text>
<text transform="translate(794.08,1603.06) rotate(-69.57)" font-family="Liberation Serif" font-size="24" font-style="italic" y="5.4">Photobacterium</text>
<text transform="translate(828.48,1617.94) rotate(-63.66)" font-family="Liberation Serif" font-size="24" font-style="italic" y="5.4">Alkaliphilus</text>
<text transform="translate(849.97,1629.49) rotate(-59.81)" font-family="Liberation Serif" font-size="24" font-style="italic" y="5.4">Cyanobacterium</text>
<text transform="translate(870.26,1642.20) rotate(-56.04)" font-family="Liberation Serif" font-size="24" font-style="normal" y="5.4">u. Cyanobacteria</text>
<text transform="translate(888.84,1655.59) rotate(-52.43)" font-family="Liberation Serif" font-size="24" font-style="italic" y="5.4">Halodesulfovibrio</text>
<text transform="translate(905.63,1669.32) rotate(-49.01)" font-family="Liberation Serif" font-size="24" font-style="normal" y="5.4">u. Rhodobacteraceae</text>
<text transform="translate(921.16,1683.63) rotate(-45.68)" font-family="Liberation Serif" font-size="24" font-style="italic" y="5.4">Marinobacter</text>
<text transform="translate(935.93,1698.92) rotate(-42.33)" font-family="Liberation Serif" font-size="24" font-style="italic" y="5.4">Lewinella</text>
<text transform="translate(948.77,1713.81) rotate(-39.23)" font-family="Liberation Serif" font-size="24" font-style="italic" y="5.4">Chroococcidiopsis</text>
<text transform="translate(961.13,1729.83) rotate(-36.04)" font-family="Liberation Serif" font-size="24" font-style="italic" y="5.4">Pseudomonas</text>
<text transform="translate(971.22,1744.45) rotate(-33.24)" font-family="Liberation Serif" font-size="24" font-style="normal" y="5.4">u. Vibrionaceae</text>
<text transform="translate(979.76,1758.12) rotate(-30.70)" font-family="Liberation Serif" font-size="24" font-style="italic" y="5.4">Roseibium</text>
<text transform="translate(988.30,1773.33) rotate(-27.95)" font-family="Liberation Serif" font-size="24" font-style="italic" y="5.4">Nunduva</text>
<text transform="translate(995.86,1788.41) rotate(-25.29)" font-family="Liberation Serif" font-size="24" font-style="italic" y="5.4">Neolyngbya</text>
<text transform="translate(1002.47,1803.25) rotate(-22.73)" font-family="Liberation Serif" font-size="24" font-style="normal" y="5.4">u. Stappiaceae</text>
<text transform="translate(1008.50,1818.60) rotate(-20.13)" font-family="Liberation Serif" font-size="24" font-style="normal" y="5.4">u. Saprospiraceae</text>
<text transform="translate(1013.43,1833.00) rotate(-17.73)" font-family="Liberation Serif" font-size="24" font-style="italic" y="5.4">Ferrimonas</text>
<text transform="translate(1018.00,1848.46) rotate(-15.19)" font-family="Liberation Serif" font-size="24" font-style="italic" y="5.4">Bacillus</text>
<text transform="translate(1021.67,1863.17) rotate(-12.80)" font-family="Liberation Serif" font-size="24" font-style="italic" y="5.4">Rivularia</text>
<text transform="translate(1024.60,1877.40) rotate(-10.51)" font-family="Liberation Serif" font-size="24" font-style="italic" y="5.4">Clostridium</text>
<text transform="translate(1026.98,1891.85) rotate(-8.20)" font-family="Liberation Serif" font-size="24" font-style="italic" y="5.4">Pleurocapsa</text>
<text transform="translate(1028.70,1905.64) rotate(-6.01)" font-family="Liberation Serif" font-size="24" font-style="normal" y="5.4">u. Alphaproteobacteria</text>
<text transform="translate(1029.29,1926.37) rotate(-2.74)" font-family="Liberation Serif" font-size="24" font-style="italic" y="5.4">Silicimonas</text>
<text transform="translate(344.80,1725.40) rotate(36.70)" font-family="Liberation Serif" font-size="24" font-style="italic" font-weight="normal" text-anchor="end">Vibrio</text>
<text transform="translate(617.70,1578.50) rotate(84.00)" font-family="Liberation Serif" font-size="24" font-style="italic" font-weight="normal" text-anchor="end">Nesiotobacter</text>
<text transform="translate(736.90,1588.30) rotate(-79.90)" font-family="Liberation Serif" font-size="24" font-style="italic" font-weight="normal" text-anchor="start">Shewanella</text>
<text transform="translate(1021.00,2048.40) rotate(17.00)" font-family="Liberation Serif" font-size="24" font-style="normal" font-weight="normal" text-anchor="start">Others</text>
<text transform="translate(357.20,2146.30) rotate(-31.30)" font-family="Liberation Serif" font-size="27" font-style="normal" font-weight="bold" text-anchor="end">LA</text>
<text transform="translate(582.80,2299.00) rotate(-76.50)" font-family="Liberation Serif" font-size="27" font-style="normal" font-weight="bold" text-anchor="end">MA</text>
<text transform="translate(854.20,2267.00) rotate(59.50)" font-family="Liberation Serif" font-size="27" font-style="normal" font-weight="bold" text-anchor="start">SA</text>
<circle cx="1115.3" cy="2200.6" r="4.4" fill="#0B3CA8"/>
<text x="1126.90" y="2206.20" font-family="Liberation Serif" font-size="26.4" font-weight="normal" font-style="normal" text-anchor="start" letter-spacing="1.1">Autotrophs</text>
<circle cx="1115.3" cy="2229.4" r="4.4" fill="#00CC00"/>
<text x="1126.90" y="2235.00" font-family="Liberation Serif" font-size="26.4" font-weight="normal" font-style="normal" text-anchor="start" letter-spacing="1.1">Heterotrophs</text>
<circle cx="1115.3" cy="2258.2" r="4.4" fill="#FFC400"/>
<text x="1126.90" y="2263.80" font-family="Liberation Serif" font-size="26.4" font-weight="normal" font-style="normal" text-anchor="start" letter-spacing="1.1">Potential pathogens</text>
</svg>
</body></html>
